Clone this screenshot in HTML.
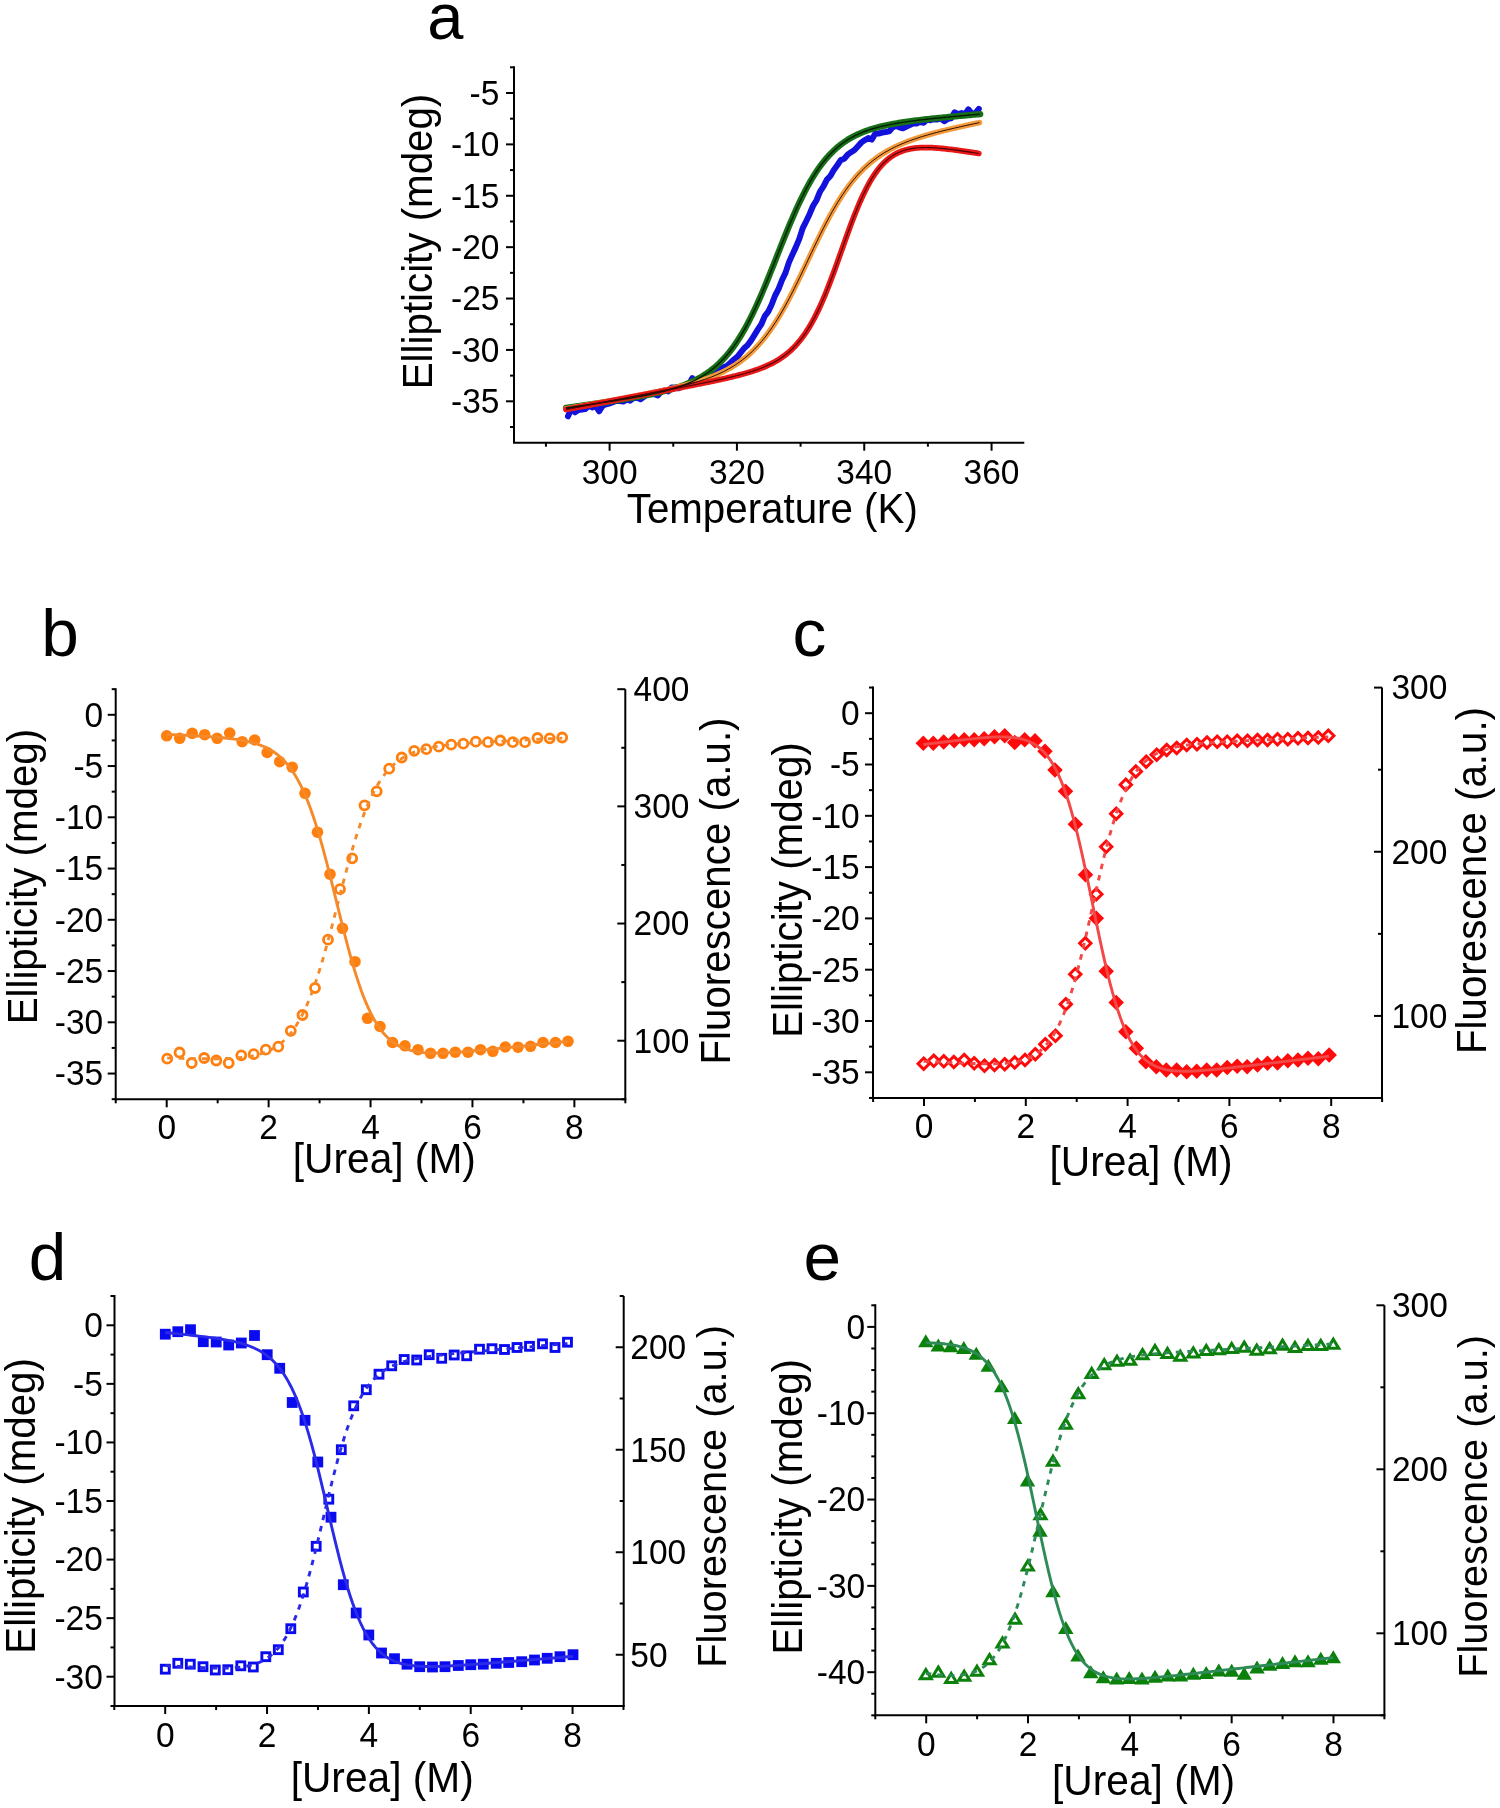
<!DOCTYPE html>
<html><head><meta charset="utf-8"><title>Figure</title>
<style>html,body{margin:0;padding:0;background:#fff;}body{width:1500px;height:1808px;overflow:hidden;}</style>
</head><body>
<svg width="1500" height="1808" viewBox="0 0 1500 1808" font-family='"Liberation Sans", sans-serif' style="display:block;will-change:transform">
<rect width="1500" height="1808" fill="#fff"/>
<path d="M514 67.3V442.7H1023.3" fill="none" stroke="#000" stroke-width="2" stroke-linecap="square"/>
<line x1="609.6" y1="442.7" x2="609.6" y2="450.7" stroke="#000" stroke-width="2"/>
<text transform="translate(609.6 483.8) scale(1 1.045)" font-size="33.5" text-anchor="middle">300</text>
<line x1="736.92" y1="442.7" x2="736.92" y2="450.7" stroke="#000" stroke-width="2"/>
<text transform="translate(736.92 483.8) scale(1 1.045)" font-size="33.5" text-anchor="middle">320</text>
<line x1="864.24" y1="442.7" x2="864.24" y2="450.7" stroke="#000" stroke-width="2"/>
<text transform="translate(864.24 483.8) scale(1 1.045)" font-size="33.5" text-anchor="middle">340</text>
<line x1="991.56" y1="442.7" x2="991.56" y2="450.7" stroke="#000" stroke-width="2"/>
<text transform="translate(991.56 483.8) scale(1 1.045)" font-size="33.5" text-anchor="middle">360</text>
<line x1="545.94" y1="442.7" x2="545.94" y2="446.7" stroke="#000" stroke-width="2"/>
<line x1="673.26" y1="442.7" x2="673.26" y2="446.7" stroke="#000" stroke-width="2"/>
<line x1="800.58" y1="442.7" x2="800.58" y2="446.7" stroke="#000" stroke-width="2"/>
<line x1="927.9" y1="442.7" x2="927.9" y2="446.7" stroke="#000" stroke-width="2"/>
<line x1="506" y1="93" x2="514" y2="93" stroke="#000" stroke-width="2"/>
<text transform="translate(499.4 104.8) scale(1 1.045)" font-size="33.5" text-anchor="end">-5</text>
<line x1="506" y1="144.38" x2="514" y2="144.38" stroke="#000" stroke-width="2"/>
<text transform="translate(499.4 156.19) scale(1 1.045)" font-size="33.5" text-anchor="end">-10</text>
<line x1="506" y1="195.77" x2="514" y2="195.77" stroke="#000" stroke-width="2"/>
<text transform="translate(499.4 207.57) scale(1 1.045)" font-size="33.5" text-anchor="end">-15</text>
<line x1="506" y1="247.16" x2="514" y2="247.16" stroke="#000" stroke-width="2"/>
<text transform="translate(499.4 258.95) scale(1 1.045)" font-size="33.5" text-anchor="end">-20</text>
<line x1="506" y1="298.54" x2="514" y2="298.54" stroke="#000" stroke-width="2"/>
<text transform="translate(499.4 310.34) scale(1 1.045)" font-size="33.5" text-anchor="end">-25</text>
<line x1="506" y1="349.93" x2="514" y2="349.93" stroke="#000" stroke-width="2"/>
<text transform="translate(499.4 361.73) scale(1 1.045)" font-size="33.5" text-anchor="end">-30</text>
<line x1="506" y1="401.31" x2="514" y2="401.31" stroke="#000" stroke-width="2"/>
<text transform="translate(499.4 413.11) scale(1 1.045)" font-size="33.5" text-anchor="end">-35</text>
<line x1="510" y1="67.31" x2="514" y2="67.31" stroke="#000" stroke-width="2"/>
<line x1="510" y1="118.69" x2="514" y2="118.69" stroke="#000" stroke-width="2"/>
<line x1="510" y1="170.08" x2="514" y2="170.08" stroke="#000" stroke-width="2"/>
<line x1="510" y1="221.46" x2="514" y2="221.46" stroke="#000" stroke-width="2"/>
<line x1="510" y1="272.85" x2="514" y2="272.85" stroke="#000" stroke-width="2"/>
<line x1="510" y1="324.23" x2="514" y2="324.23" stroke="#000" stroke-width="2"/>
<line x1="510" y1="375.62" x2="514" y2="375.62" stroke="#000" stroke-width="2"/>
<line x1="510" y1="427" x2="514" y2="427" stroke="#000" stroke-width="2"/>
<text transform="translate(427.2 39.2)" font-size="65" text-anchor="start">a</text>
<text transform="translate(431.6 241.5) rotate(-90) scale(1 1.035)" font-size="40.3" text-anchor="middle">Ellipticity (mdeg)</text>
<text transform="translate(772.3 522.8) scale(1 1.035)" font-size="40.3" text-anchor="middle">Temperature (K)</text>
<path d="M568 416.28 L571.45 408.62 L574.9 412.32 L578.36 410.07 L581.81 409.47 L585.26 409.06 L588.71 405.58 L592.16 407.5 L595.62 405.77 L599.07 411.28 L602.52 405.86 L605.97 404.22 L609.43 403.55 L612.88 402.19 L616.33 400.83 L619.78 401.04 L623.23 401.56 L626.69 399.69 L630.14 400.68 L633.59 398.15 L637.04 397.67 L640.49 399.14 L643.95 396.82 L647.4 394.41 L650.85 394.05 L654.3 394.28 L657.75 395.51 L661.21 391.31 L664.66 390.45 L668.11 391.4 L671.56 387.61 L675.02 387.53 L678.47 388.28 L681.92 386.78 L685.37 384.96 L688.82 384.69 L692.28 378.25 L695.73 382.76 L699.18 378.46 L702.63 377.31 L706.08 377.16 L709.54 375.83 L712.99 373.28 L716.44 370.95 L719.89 369.68 L723.34 367.39 L726.8 365.98 L730.25 362.87 L733.7 359.58 L737.15 357.04 L740.61 352.64 L744.06 348.32 L747.51 345.21 L750.96 340.66 L754.41 335.15 L757.87 329.37 L761.32 324.28 L764.77 316.13 L768.22 311.69 L771.67 304.46 L775.13 295.5 L778.58 288.87 L782.03 280.03 L785.48 272.88 L788.93 262.41 L792.39 254.59 L795.84 247.12 L799.29 238.9 L802.74 228.2 L806.19 221.22 L809.65 213.94 L813.1 205.78 L816.55 200.21 L820 191.57 L823.46 186.39 L826.91 179.59 L830.36 175.94 L833.81 170 L837.26 165.23 L840.72 160.15 L844.17 158.77 L847.62 154.69 L851.07 152.19 L854.52 149.94 L857.98 146.19 L861.43 142.38 L864.88 140.02 L868.33 138.08 L871.78 139.56 L875.24 133.69 L878.69 133.49 L882.14 132.52 L885.59 132.06 L889.05 131.39 L892.5 127.53 L895.95 125.76 L899.4 127.35 L902.85 128.23 L906.31 126.65 L909.76 124.97 L913.21 123.34 L916.66 123.46 L920.11 121.88 L923.57 122.72 L927.02 119.56 L930.47 120.24 L933.92 119.17 L937.37 119.46 L940.83 118.3 L944.28 121.11 L947.73 118.87 L951.18 118.21 L954.64 112.26 L958.09 114.16 L961.54 113.12 L964.99 114.19 L968.44 109.34 L971.9 113.89 L975.35 113.1 L978.8 108.92" fill="none" stroke="#1212dc" stroke-width="6.0" stroke-linejoin="round" stroke-linecap="round"/>
<path d="M566 407.95 L567.73 407.7 L569.47 407.45 L571.2 407.2 L572.93 406.95 L574.67 406.69 L576.4 406.44 L578.13 406.19 L579.86 405.94 L581.6 405.69 L583.33 405.43 L585.06 405.18 L586.8 404.92 L588.53 404.67 L590.26 404.41 L592 404.15 L593.73 403.9 L595.46 403.64 L597.19 403.38 L598.93 403.12 L600.66 402.86 L602.39 402.59 L604.13 402.33 L605.86 402.06 L607.59 401.8 L609.33 401.53 L611.06 401.26 L612.79 400.99 L614.53 400.72 L616.26 400.44 L617.99 400.16 L619.72 399.88 L621.46 399.6 L623.19 399.32 L624.92 399.03 L626.66 398.74 L628.39 398.45 L630.12 398.15 L631.86 397.85 L633.59 397.55 L635.32 397.24 L637.06 396.93 L638.79 396.61 L640.52 396.29 L642.25 395.96 L643.99 395.63 L645.72 395.29 L647.45 394.95 L649.19 394.59 L650.92 394.23 L652.65 393.87 L654.39 393.49 L656.12 393.11 L657.85 392.71 L659.58 392.31 L661.32 391.89 L663.05 391.47 L664.78 391.03 L666.52 390.57 L668.25 390.11 L669.98 389.63 L671.72 389.13 L673.45 388.61 L675.18 388.08 L676.92 387.53 L678.65 386.96 L680.38 386.36 L682.11 385.74 L683.85 385.1 L685.58 384.43 L687.31 383.73 L689.05 383.01 L690.78 382.25 L692.51 381.46 L694.25 380.63 L695.98 379.76 L697.71 378.86 L699.45 377.91 L701.18 376.92 L702.91 375.88 L704.64 374.79 L706.38 373.65 L708.11 372.46 L709.84 371.2 L711.58 369.89 L713.31 368.51 L715.04 367.07 L716.78 365.55 L718.51 363.96 L720.24 362.3 L721.97 360.55 L723.71 358.73 L725.44 356.81 L727.17 354.81 L728.91 352.72 L730.64 350.53 L732.37 348.24 L734.11 345.86 L735.84 343.37 L737.57 340.78 L739.31 338.08 L741.04 335.27 L742.77 332.36 L744.5 329.34 L746.24 326.21 L747.97 322.97 L749.7 319.63 L751.44 316.18 L753.17 312.63 L754.9 308.98 L756.64 305.23 L758.37 301.4 L760.1 297.47 L761.84 293.46 L763.57 289.38 L765.3 285.23 L767.03 281.02 L768.77 276.76 L770.5 272.45 L772.23 268.11 L773.97 263.74 L775.7 259.36 L777.43 254.96 L779.17 250.57 L780.9 246.2 L782.63 241.84 L784.36 237.52 L786.1 233.23 L787.83 229 L789.56 224.82 L791.3 220.7 L793.03 216.66 L794.76 212.7 L796.5 208.83 L798.23 205.04 L799.96 201.35 L801.7 197.77 L803.43 194.28 L805.16 190.9 L806.89 187.63 L808.63 184.47 L810.36 181.42 L812.09 178.48 L813.83 175.65 L815.56 172.93 L817.29 170.32 L819.03 167.82 L820.76 165.43 L822.49 163.14 L824.23 160.95 L825.96 158.86 L827.69 156.87 L829.42 154.97 L831.16 153.15 L832.89 151.43 L834.62 149.79 L836.36 148.23 L838.09 146.75 L839.82 145.34 L841.56 144 L843.29 142.73 L845.02 141.52 L846.75 140.38 L848.49 139.29 L850.22 138.26 L851.95 137.28 L853.69 136.35 L855.42 135.47 L857.15 134.63 L858.89 133.83 L860.62 133.08 L862.35 132.36 L864.09 131.67 L865.82 131.02 L867.55 130.4 L869.28 129.81 L871.02 129.25 L872.75 128.72 L874.48 128.21 L876.22 127.72 L877.95 127.25 L879.68 126.81 L881.42 126.38 L883.15 125.97 L884.88 125.58 L886.62 125.21 L888.35 124.84 L890.08 124.5 L891.81 124.16 L893.55 123.84 L895.28 123.53 L897.01 123.23 L898.75 122.94 L900.48 122.66 L902.21 122.39 L903.95 122.13 L905.68 121.87 L907.41 121.62 L909.14 121.38 L910.88 121.14 L912.61 120.91 L914.34 120.69 L916.08 120.47 L917.81 120.26 L919.54 120.05 L921.28 119.84 L923.01 119.64 L924.74 119.44 L926.48 119.25 L928.21 119.06 L929.94 118.87 L931.67 118.68 L933.41 118.5 L935.14 118.32 L936.87 118.14 L938.61 117.96 L940.34 117.79 L942.07 117.62 L943.81 117.45 L945.54 117.28 L947.27 117.11 L949.01 116.95 L950.74 116.78 L952.47 116.62 L954.2 116.46 L955.94 116.29 L957.67 116.13 L959.4 115.98 L961.14 115.82 L962.87 115.66 L964.6 115.5 L966.34 115.35 L968.07 115.19 L969.8 115.04 L971.53 114.88 L973.27 114.73 L975 114.58 L976.73 114.43 L978.47 114.27 L980.2 114.12" fill="none" stroke="#177017" stroke-width="6.3" stroke-linejoin="round" stroke-linecap="round"/>
<path d="M566 408.87 L567.73 408.56 L569.46 408.25 L571.19 407.94 L572.92 407.62 L574.65 407.31 L576.38 407 L578.11 406.69 L579.84 406.37 L581.57 406.06 L583.3 405.75 L585.03 405.43 L586.76 405.12 L588.49 404.8 L590.22 404.49 L591.95 404.17 L593.68 403.86 L595.41 403.54 L597.14 403.23 L598.87 402.91 L600.6 402.59 L602.33 402.28 L604.06 401.96 L605.79 401.64 L607.52 401.32 L609.25 401 L610.98 400.68 L612.71 400.36 L614.44 400.04 L616.17 399.72 L617.9 399.4 L619.63 399.08 L621.36 398.75 L623.09 398.43 L624.82 398.1 L626.55 397.78 L628.28 397.45 L630.01 397.12 L631.74 396.79 L633.47 396.46 L635.21 396.12 L636.94 395.79 L638.67 395.45 L640.4 395.12 L642.13 394.78 L643.86 394.44 L645.59 394.09 L647.32 393.75 L649.05 393.4 L650.78 393.05 L652.51 392.7 L654.24 392.34 L655.97 391.98 L657.7 391.62 L659.43 391.26 L661.16 390.89 L662.89 390.52 L664.62 390.14 L666.35 389.76 L668.08 389.37 L669.81 388.98 L671.54 388.59 L673.27 388.19 L675 387.78 L676.73 387.37 L678.46 386.95 L680.19 386.52 L681.92 386.09 L683.65 385.65 L685.38 385.2 L687.11 384.74 L688.84 384.27 L690.57 383.79 L692.3 383.3 L694.03 382.8 L695.76 382.28 L697.49 381.76 L699.22 381.22 L700.95 380.66 L702.68 380.09 L704.41 379.51 L706.14 378.9 L707.87 378.28 L709.6 377.64 L711.33 376.98 L713.06 376.29 L714.79 375.58 L716.52 374.85 L718.25 374.09 L719.98 373.31 L721.71 372.5 L723.44 371.65 L725.17 370.78 L726.9 369.87 L728.63 368.92 L730.36 367.94 L732.09 366.92 L733.82 365.86 L735.55 364.75 L737.28 363.6 L739.01 362.4 L740.74 361.15 L742.47 359.85 L744.2 358.5 L745.93 357.09 L747.66 355.62 L749.39 354.09 L751.12 352.5 L752.85 350.84 L754.58 349.11 L756.31 347.32 L758.04 345.45 L759.77 343.51 L761.5 341.5 L763.23 339.41 L764.96 337.24 L766.69 334.99 L768.42 332.66 L770.15 330.25 L771.88 327.75 L773.62 325.18 L775.35 322.52 L777.08 319.79 L778.81 316.97 L780.54 314.07 L782.27 311.1 L784 308.05 L785.73 304.92 L787.46 301.73 L789.19 298.47 L790.92 295.15 L792.65 291.77 L794.38 288.33 L796.11 284.85 L797.84 281.32 L799.57 277.76 L801.3 274.17 L803.03 270.55 L804.76 266.91 L806.49 263.25 L808.22 259.6 L809.95 255.94 L811.68 252.29 L813.41 248.66 L815.14 245.05 L816.87 241.46 L818.6 237.91 L820.33 234.4 L822.06 230.93 L823.79 227.51 L825.52 224.15 L827.25 220.85 L828.98 217.61 L830.71 214.44 L832.44 211.34 L834.17 208.31 L835.9 205.36 L837.63 202.48 L839.36 199.69 L841.09 196.97 L842.82 194.34 L844.55 191.78 L846.28 189.31 L848.01 186.92 L849.74 184.61 L851.47 182.38 L853.2 180.22 L854.93 178.15 L856.66 176.14 L858.39 174.22 L860.12 172.36 L861.85 170.58 L863.58 168.86 L865.31 167.21 L867.04 165.62 L868.77 164.09 L870.5 162.63 L872.23 161.22 L873.96 159.86 L875.69 158.56 L877.42 157.31 L879.15 156.1 L880.88 154.95 L882.61 153.83 L884.34 152.76 L886.07 151.73 L887.8 150.74 L889.53 149.78 L891.26 148.86 L892.99 147.97 L894.72 147.11 L896.45 146.28 L898.18 145.48 L899.91 144.71 L901.64 143.96 L903.37 143.24 L905.1 142.53 L906.83 141.85 L908.56 141.19 L910.29 140.55 L912.03 139.92 L913.76 139.31 L915.49 138.72 L917.22 138.14 L918.95 137.58 L920.68 137.03 L922.41 136.5 L924.14 135.97 L925.87 135.46 L927.6 134.95 L929.33 134.46 L931.06 133.98 L932.79 133.5 L934.52 133.03 L936.25 132.57 L937.98 132.12 L939.71 131.68 L941.44 131.24 L943.17 130.8 L944.9 130.38 L946.63 129.96 L948.36 129.54 L950.09 129.13 L951.82 128.72 L953.55 128.32 L955.28 127.92 L957.01 127.52 L958.74 127.13 L960.47 126.74 L962.2 126.36 L963.93 125.97 L965.66 125.59 L967.39 125.22 L969.12 124.84 L970.85 124.47 L972.58 124.1 L974.31 123.73 L976.04 123.36 L977.77 123 L979.5 122.63" fill="none" stroke="#f39a3a" stroke-width="5.6" stroke-linejoin="round" stroke-linecap="round"/>
<path d="M566 409.5 L567.73 409.17 L569.45 408.84 L571.18 408.51 L572.91 408.18 L574.64 407.85 L576.36 407.52 L578.09 407.19 L579.82 406.86 L581.54 406.53 L583.27 406.2 L585 405.87 L586.73 405.54 L588.45 405.21 L590.18 404.88 L591.91 404.55 L593.64 404.22 L595.36 403.89 L597.09 403.56 L598.82 403.23 L600.54 402.9 L602.27 402.57 L604 402.24 L605.73 401.92 L607.45 401.59 L609.18 401.26 L610.91 400.93 L612.63 400.6 L614.36 400.27 L616.09 399.94 L617.82 399.61 L619.54 399.28 L621.27 398.95 L623 398.62 L624.72 398.29 L626.45 397.96 L628.18 397.63 L629.91 397.3 L631.63 396.97 L633.36 396.64 L635.09 396.31 L636.82 395.98 L638.54 395.65 L640.27 395.32 L642 394.98 L643.72 394.65 L645.45 394.32 L647.18 393.99 L648.91 393.66 L650.63 393.33 L652.36 393 L654.09 392.67 L655.81 392.34 L657.54 392 L659.27 391.67 L661 391.34 L662.72 391.01 L664.45 390.67 L666.18 390.34 L667.9 390.01 L669.63 389.68 L671.36 389.34 L673.09 389.01 L674.81 388.67 L676.54 388.34 L678.27 388 L679.99 387.67 L681.72 387.33 L683.45 386.99 L685.18 386.65 L686.9 386.31 L688.63 385.97 L690.36 385.63 L692.09 385.29 L693.81 384.95 L695.54 384.61 L697.27 384.26 L698.99 383.92 L700.72 383.57 L702.45 383.22 L704.18 382.87 L705.9 382.52 L707.63 382.16 L709.36 381.8 L711.08 381.44 L712.81 381.08 L714.54 380.72 L716.27 380.35 L717.99 379.98 L719.72 379.6 L721.45 379.23 L723.17 378.84 L724.9 378.46 L726.63 378.06 L728.36 377.67 L730.08 377.26 L731.81 376.85 L733.54 376.43 L735.27 376.01 L736.99 375.58 L738.72 375.13 L740.45 374.68 L742.17 374.22 L743.9 373.75 L745.63 373.26 L747.36 372.76 L749.08 372.25 L750.81 371.72 L752.54 371.18 L754.26 370.61 L755.99 370.03 L757.72 369.42 L759.45 368.8 L761.17 368.14 L762.9 367.46 L764.63 366.75 L766.35 366.01 L768.08 365.23 L769.81 364.42 L771.54 363.57 L773.26 362.68 L774.99 361.73 L776.72 360.74 L778.45 359.7 L780.17 358.6 L781.9 357.44 L783.63 356.21 L785.35 354.92 L787.08 353.55 L788.81 352.1 L790.54 350.57 L792.26 348.94 L793.99 347.22 L795.72 345.41 L797.44 343.48 L799.17 341.45 L800.9 339.3 L802.63 337.03 L804.35 334.63 L806.08 332.1 L807.81 329.43 L809.53 326.62 L811.26 323.67 L812.99 320.57 L814.72 317.33 L816.44 313.93 L818.17 310.39 L819.9 306.7 L821.63 302.86 L823.35 298.88 L825.08 294.76 L826.81 290.51 L828.53 286.15 L830.26 281.66 L831.99 277.08 L833.72 272.41 L835.44 267.67 L837.17 262.86 L838.9 258.02 L840.62 253.14 L842.35 248.26 L844.08 243.39 L845.81 238.54 L847.53 233.73 L849.26 228.99 L850.99 224.33 L852.71 219.76 L854.44 215.29 L856.17 210.95 L857.9 206.74 L859.62 202.68 L861.35 198.76 L863.08 195.01 L864.81 191.42 L866.53 187.99 L868.26 184.74 L869.99 181.66 L871.71 178.75 L873.44 176.01 L875.17 173.44 L876.9 171.03 L878.62 168.78 L880.35 166.68 L882.08 164.74 L883.8 162.94 L885.53 161.28 L887.26 159.74 L888.99 158.34 L890.71 157.05 L892.44 155.87 L894.17 154.8 L895.89 153.83 L897.62 152.95 L899.35 152.16 L901.08 151.46 L902.8 150.83 L904.53 150.26 L906.26 149.77 L907.98 149.34 L909.71 148.96 L911.44 148.64 L913.17 148.37 L914.89 148.14 L916.62 147.96 L918.35 147.81 L920.08 147.7 L921.8 147.62 L923.53 147.58 L925.26 147.56 L926.98 147.56 L928.71 147.59 L930.44 147.65 L932.17 147.72 L933.89 147.81 L935.62 147.92 L937.35 148.04 L939.07 148.18 L940.8 148.33 L942.53 148.5 L944.26 148.67 L945.98 148.86 L947.71 149.05 L949.44 149.26 L951.16 149.47 L952.89 149.68 L954.62 149.91 L956.35 150.14 L958.07 150.37 L959.8 150.62 L961.53 150.86 L963.26 151.11 L964.98 151.37 L966.71 151.62 L968.44 151.88 L970.16 152.15 L971.89 152.41 L973.62 152.68 L975.35 152.95 L977.07 153.23 L978.8 153.5" fill="none" stroke="#e81818" stroke-width="5.8" stroke-linejoin="round" stroke-linecap="round"/>
<path d="M566 407.95 L567.73 407.7 L569.47 407.45 L571.2 407.2 L572.93 406.95 L574.67 406.69 L576.4 406.44 L578.13 406.19 L579.86 405.94 L581.6 405.69 L583.33 405.43 L585.06 405.18 L586.8 404.92 L588.53 404.67 L590.26 404.41 L592 404.15 L593.73 403.9 L595.46 403.64 L597.19 403.38 L598.93 403.12 L600.66 402.86 L602.39 402.59 L604.13 402.33 L605.86 402.06 L607.59 401.8 L609.33 401.53 L611.06 401.26 L612.79 400.99 L614.53 400.72 L616.26 400.44 L617.99 400.16 L619.72 399.88 L621.46 399.6 L623.19 399.32 L624.92 399.03 L626.66 398.74 L628.39 398.45 L630.12 398.15 L631.86 397.85 L633.59 397.55 L635.32 397.24 L637.06 396.93 L638.79 396.61 L640.52 396.29 L642.25 395.96 L643.99 395.63 L645.72 395.29 L647.45 394.95 L649.19 394.59 L650.92 394.23 L652.65 393.87 L654.39 393.49 L656.12 393.11 L657.85 392.71 L659.58 392.31 L661.32 391.89 L663.05 391.47 L664.78 391.03 L666.52 390.57 L668.25 390.11 L669.98 389.63 L671.72 389.13 L673.45 388.61 L675.18 388.08 L676.92 387.53 L678.65 386.96 L680.38 386.36 L682.11 385.74 L683.85 385.1 L685.58 384.43 L687.31 383.73 L689.05 383.01 L690.78 382.25 L692.51 381.46 L694.25 380.63 L695.98 379.76 L697.71 378.86 L699.45 377.91 L701.18 376.92 L702.91 375.88 L704.64 374.79 L706.38 373.65 L708.11 372.46 L709.84 371.2 L711.58 369.89 L713.31 368.51 L715.04 367.07 L716.78 365.55 L718.51 363.96 L720.24 362.3 L721.97 360.55 L723.71 358.73 L725.44 356.81 L727.17 354.81 L728.91 352.72 L730.64 350.53 L732.37 348.24 L734.11 345.86 L735.84 343.37 L737.57 340.78 L739.31 338.08 L741.04 335.27 L742.77 332.36 L744.5 329.34 L746.24 326.21 L747.97 322.97 L749.7 319.63 L751.44 316.18 L753.17 312.63 L754.9 308.98 L756.64 305.23 L758.37 301.4 L760.1 297.47 L761.84 293.46 L763.57 289.38 L765.3 285.23 L767.03 281.02 L768.77 276.76 L770.5 272.45 L772.23 268.11 L773.97 263.74 L775.7 259.36 L777.43 254.96 L779.17 250.57 L780.9 246.2 L782.63 241.84 L784.36 237.52 L786.1 233.23 L787.83 229 L789.56 224.82 L791.3 220.7 L793.03 216.66 L794.76 212.7 L796.5 208.83 L798.23 205.04 L799.96 201.35 L801.7 197.77 L803.43 194.28 L805.16 190.9 L806.89 187.63 L808.63 184.47 L810.36 181.42 L812.09 178.48 L813.83 175.65 L815.56 172.93 L817.29 170.32 L819.03 167.82 L820.76 165.43 L822.49 163.14 L824.23 160.95 L825.96 158.86 L827.69 156.87 L829.42 154.97 L831.16 153.15 L832.89 151.43 L834.62 149.79 L836.36 148.23 L838.09 146.75 L839.82 145.34 L841.56 144 L843.29 142.73 L845.02 141.52 L846.75 140.38 L848.49 139.29 L850.22 138.26 L851.95 137.28 L853.69 136.35 L855.42 135.47 L857.15 134.63 L858.89 133.83 L860.62 133.08 L862.35 132.36 L864.09 131.67 L865.82 131.02 L867.55 130.4 L869.28 129.81 L871.02 129.25 L872.75 128.72 L874.48 128.21 L876.22 127.72 L877.95 127.25 L879.68 126.81 L881.42 126.38 L883.15 125.97 L884.88 125.58 L886.62 125.21 L888.35 124.84 L890.08 124.5 L891.81 124.16 L893.55 123.84 L895.28 123.53 L897.01 123.23 L898.75 122.94 L900.48 122.66 L902.21 122.39 L903.95 122.13 L905.68 121.87 L907.41 121.62 L909.14 121.38 L910.88 121.14 L912.61 120.91 L914.34 120.69 L916.08 120.47 L917.81 120.26 L919.54 120.05 L921.28 119.84 L923.01 119.64 L924.74 119.44 L926.48 119.25 L928.21 119.06 L929.94 118.87 L931.67 118.68 L933.41 118.5 L935.14 118.32 L936.87 118.14 L938.61 117.96 L940.34 117.79 L942.07 117.62 L943.81 117.45 L945.54 117.28 L947.27 117.11 L949.01 116.95 L950.74 116.78 L952.47 116.62 L954.2 116.46 L955.94 116.29 L957.67 116.13 L959.4 115.98 L961.14 115.82 L962.87 115.66 L964.6 115.5 L966.34 115.35 L968.07 115.19 L969.8 115.04 L971.53 114.88 L973.27 114.73 L975 114.58 L976.73 114.43 L978.47 114.27 L980.2 114.12" fill="none" stroke="#031d03" stroke-width="1.4"/>
<path d="M566 408.87 L567.73 408.56 L569.46 408.25 L571.19 407.94 L572.92 407.62 L574.65 407.31 L576.38 407 L578.11 406.69 L579.84 406.37 L581.57 406.06 L583.3 405.75 L585.03 405.43 L586.76 405.12 L588.49 404.8 L590.22 404.49 L591.95 404.17 L593.68 403.86 L595.41 403.54 L597.14 403.23 L598.87 402.91 L600.6 402.59 L602.33 402.28 L604.06 401.96 L605.79 401.64 L607.52 401.32 L609.25 401 L610.98 400.68 L612.71 400.36 L614.44 400.04 L616.17 399.72 L617.9 399.4 L619.63 399.08 L621.36 398.75 L623.09 398.43 L624.82 398.1 L626.55 397.78 L628.28 397.45 L630.01 397.12 L631.74 396.79 L633.47 396.46 L635.21 396.12 L636.94 395.79 L638.67 395.45 L640.4 395.12 L642.13 394.78 L643.86 394.44 L645.59 394.09 L647.32 393.75 L649.05 393.4 L650.78 393.05 L652.51 392.7 L654.24 392.34 L655.97 391.98 L657.7 391.62 L659.43 391.26 L661.16 390.89 L662.89 390.52 L664.62 390.14 L666.35 389.76 L668.08 389.37 L669.81 388.98 L671.54 388.59 L673.27 388.19 L675 387.78 L676.73 387.37 L678.46 386.95 L680.19 386.52 L681.92 386.09 L683.65 385.65 L685.38 385.2 L687.11 384.74 L688.84 384.27 L690.57 383.79 L692.3 383.3 L694.03 382.8 L695.76 382.28 L697.49 381.76 L699.22 381.22 L700.95 380.66 L702.68 380.09 L704.41 379.51 L706.14 378.9 L707.87 378.28 L709.6 377.64 L711.33 376.98 L713.06 376.29 L714.79 375.58 L716.52 374.85 L718.25 374.09 L719.98 373.31 L721.71 372.5 L723.44 371.65 L725.17 370.78 L726.9 369.87 L728.63 368.92 L730.36 367.94 L732.09 366.92 L733.82 365.86 L735.55 364.75 L737.28 363.6 L739.01 362.4 L740.74 361.15 L742.47 359.85 L744.2 358.5 L745.93 357.09 L747.66 355.62 L749.39 354.09 L751.12 352.5 L752.85 350.84 L754.58 349.11 L756.31 347.32 L758.04 345.45 L759.77 343.51 L761.5 341.5 L763.23 339.41 L764.96 337.24 L766.69 334.99 L768.42 332.66 L770.15 330.25 L771.88 327.75 L773.62 325.18 L775.35 322.52 L777.08 319.79 L778.81 316.97 L780.54 314.07 L782.27 311.1 L784 308.05 L785.73 304.92 L787.46 301.73 L789.19 298.47 L790.92 295.15 L792.65 291.77 L794.38 288.33 L796.11 284.85 L797.84 281.32 L799.57 277.76 L801.3 274.17 L803.03 270.55 L804.76 266.91 L806.49 263.25 L808.22 259.6 L809.95 255.94 L811.68 252.29 L813.41 248.66 L815.14 245.05 L816.87 241.46 L818.6 237.91 L820.33 234.4 L822.06 230.93 L823.79 227.51 L825.52 224.15 L827.25 220.85 L828.98 217.61 L830.71 214.44 L832.44 211.34 L834.17 208.31 L835.9 205.36 L837.63 202.48 L839.36 199.69 L841.09 196.97 L842.82 194.34 L844.55 191.78 L846.28 189.31 L848.01 186.92 L849.74 184.61 L851.47 182.38 L853.2 180.22 L854.93 178.15 L856.66 176.14 L858.39 174.22 L860.12 172.36 L861.85 170.58 L863.58 168.86 L865.31 167.21 L867.04 165.62 L868.77 164.09 L870.5 162.63 L872.23 161.22 L873.96 159.86 L875.69 158.56 L877.42 157.31 L879.15 156.1 L880.88 154.95 L882.61 153.83 L884.34 152.76 L886.07 151.73 L887.8 150.74 L889.53 149.78 L891.26 148.86 L892.99 147.97 L894.72 147.11 L896.45 146.28 L898.18 145.48 L899.91 144.71 L901.64 143.96 L903.37 143.24 L905.1 142.53 L906.83 141.85 L908.56 141.19 L910.29 140.55 L912.03 139.92 L913.76 139.31 L915.49 138.72 L917.22 138.14 L918.95 137.58 L920.68 137.03 L922.41 136.5 L924.14 135.97 L925.87 135.46 L927.6 134.95 L929.33 134.46 L931.06 133.98 L932.79 133.5 L934.52 133.03 L936.25 132.57 L937.98 132.12 L939.71 131.68 L941.44 131.24 L943.17 130.8 L944.9 130.38 L946.63 129.96 L948.36 129.54 L950.09 129.13 L951.82 128.72 L953.55 128.32 L955.28 127.92 L957.01 127.52 L958.74 127.13 L960.47 126.74 L962.2 126.36 L963.93 125.97 L965.66 125.59 L967.39 125.22 L969.12 124.84 L970.85 124.47 L972.58 124.1 L974.31 123.73 L976.04 123.36 L977.77 123 L979.5 122.63" fill="none" stroke="#2a0a00" stroke-width="1.0"/>
<path d="M566 409.5 L567.73 409.17 L569.45 408.84 L571.18 408.51 L572.91 408.18 L574.64 407.85 L576.36 407.52 L578.09 407.19 L579.82 406.86 L581.54 406.53 L583.27 406.2 L585 405.87 L586.73 405.54 L588.45 405.21 L590.18 404.88 L591.91 404.55 L593.64 404.22 L595.36 403.89 L597.09 403.56 L598.82 403.23 L600.54 402.9 L602.27 402.57 L604 402.24 L605.73 401.92 L607.45 401.59 L609.18 401.26 L610.91 400.93 L612.63 400.6 L614.36 400.27 L616.09 399.94 L617.82 399.61 L619.54 399.28 L621.27 398.95 L623 398.62 L624.72 398.29 L626.45 397.96 L628.18 397.63 L629.91 397.3 L631.63 396.97 L633.36 396.64 L635.09 396.31 L636.82 395.98 L638.54 395.65 L640.27 395.32 L642 394.98 L643.72 394.65 L645.45 394.32 L647.18 393.99 L648.91 393.66 L650.63 393.33 L652.36 393 L654.09 392.67 L655.81 392.34 L657.54 392 L659.27 391.67 L661 391.34 L662.72 391.01 L664.45 390.67 L666.18 390.34 L667.9 390.01 L669.63 389.68 L671.36 389.34 L673.09 389.01 L674.81 388.67 L676.54 388.34 L678.27 388 L679.99 387.67 L681.72 387.33 L683.45 386.99 L685.18 386.65 L686.9 386.31 L688.63 385.97 L690.36 385.63 L692.09 385.29 L693.81 384.95 L695.54 384.61 L697.27 384.26 L698.99 383.92 L700.72 383.57 L702.45 383.22 L704.18 382.87 L705.9 382.52 L707.63 382.16 L709.36 381.8 L711.08 381.44 L712.81 381.08 L714.54 380.72 L716.27 380.35 L717.99 379.98 L719.72 379.6 L721.45 379.23 L723.17 378.84 L724.9 378.46 L726.63 378.06 L728.36 377.67 L730.08 377.26 L731.81 376.85 L733.54 376.43 L735.27 376.01 L736.99 375.58 L738.72 375.13 L740.45 374.68 L742.17 374.22 L743.9 373.75 L745.63 373.26 L747.36 372.76 L749.08 372.25 L750.81 371.72 L752.54 371.18 L754.26 370.61 L755.99 370.03 L757.72 369.42 L759.45 368.8 L761.17 368.14 L762.9 367.46 L764.63 366.75 L766.35 366.01 L768.08 365.23 L769.81 364.42 L771.54 363.57 L773.26 362.68 L774.99 361.73 L776.72 360.74 L778.45 359.7 L780.17 358.6 L781.9 357.44 L783.63 356.21 L785.35 354.92 L787.08 353.55 L788.81 352.1 L790.54 350.57 L792.26 348.94 L793.99 347.22 L795.72 345.41 L797.44 343.48 L799.17 341.45 L800.9 339.3 L802.63 337.03 L804.35 334.63 L806.08 332.1 L807.81 329.43 L809.53 326.62 L811.26 323.67 L812.99 320.57 L814.72 317.33 L816.44 313.93 L818.17 310.39 L819.9 306.7 L821.63 302.86 L823.35 298.88 L825.08 294.76 L826.81 290.51 L828.53 286.15 L830.26 281.66 L831.99 277.08 L833.72 272.41 L835.44 267.67 L837.17 262.86 L838.9 258.02 L840.62 253.14 L842.35 248.26 L844.08 243.39 L845.81 238.54 L847.53 233.73 L849.26 228.99 L850.99 224.33 L852.71 219.76 L854.44 215.29 L856.17 210.95 L857.9 206.74 L859.62 202.68 L861.35 198.76 L863.08 195.01 L864.81 191.42 L866.53 187.99 L868.26 184.74 L869.99 181.66 L871.71 178.75 L873.44 176.01 L875.17 173.44 L876.9 171.03 L878.62 168.78 L880.35 166.68 L882.08 164.74 L883.8 162.94 L885.53 161.28 L887.26 159.74 L888.99 158.34 L890.71 157.05 L892.44 155.87 L894.17 154.8 L895.89 153.83 L897.62 152.95 L899.35 152.16 L901.08 151.46 L902.8 150.83 L904.53 150.26 L906.26 149.77 L907.98 149.34 L909.71 148.96 L911.44 148.64 L913.17 148.37 L914.89 148.14 L916.62 147.96 L918.35 147.81 L920.08 147.7 L921.8 147.62 L923.53 147.58 L925.26 147.56 L926.98 147.56 L928.71 147.59 L930.44 147.65 L932.17 147.72 L933.89 147.81 L935.62 147.92 L937.35 148.04 L939.07 148.18 L940.8 148.33 L942.53 148.5 L944.26 148.67 L945.98 148.86 L947.71 149.05 L949.44 149.26 L951.16 149.47 L952.89 149.68 L954.62 149.91 L956.35 150.14 L958.07 150.37 L959.8 150.62 L961.53 150.86 L963.26 151.11 L964.98 151.37 L966.71 151.62 L968.44 151.88 L970.16 152.15 L971.89 152.41 L973.62 152.68 L975.35 152.95 L977.07 153.23 L978.8 153.5" fill="none" stroke="#4a0000" stroke-width="1.1"/>
<path d="M115.7 689.2V1099.3H625.3" fill="none" stroke="#000" stroke-width="2" stroke-linecap="square"/>
<line x1="625.3" y1="689.2" x2="625.3" y2="1099.3" stroke="#000" stroke-width="2"/>
<line x1="166.7" y1="1099.3" x2="166.7" y2="1107.3" stroke="#000" stroke-width="2"/>
<text transform="translate(166.7 1139.2) scale(1 1.045)" font-size="33.5" text-anchor="middle">0</text>
<line x1="268.62" y1="1099.3" x2="268.62" y2="1107.3" stroke="#000" stroke-width="2"/>
<text transform="translate(268.62 1139.2) scale(1 1.045)" font-size="33.5" text-anchor="middle">2</text>
<line x1="370.54" y1="1099.3" x2="370.54" y2="1107.3" stroke="#000" stroke-width="2"/>
<text transform="translate(370.54 1139.2) scale(1 1.045)" font-size="33.5" text-anchor="middle">4</text>
<line x1="472.46" y1="1099.3" x2="472.46" y2="1107.3" stroke="#000" stroke-width="2"/>
<text transform="translate(472.46 1139.2) scale(1 1.045)" font-size="33.5" text-anchor="middle">6</text>
<line x1="574.38" y1="1099.3" x2="574.38" y2="1107.3" stroke="#000" stroke-width="2"/>
<text transform="translate(574.38 1139.2) scale(1 1.045)" font-size="33.5" text-anchor="middle">8</text>
<line x1="115.74" y1="1099.3" x2="115.74" y2="1103.3" stroke="#000" stroke-width="2"/>
<line x1="217.66" y1="1099.3" x2="217.66" y2="1103.3" stroke="#000" stroke-width="2"/>
<line x1="319.58" y1="1099.3" x2="319.58" y2="1103.3" stroke="#000" stroke-width="2"/>
<line x1="421.5" y1="1099.3" x2="421.5" y2="1103.3" stroke="#000" stroke-width="2"/>
<line x1="523.42" y1="1099.3" x2="523.42" y2="1103.3" stroke="#000" stroke-width="2"/>
<line x1="625.34" y1="1099.3" x2="625.34" y2="1103.3" stroke="#000" stroke-width="2"/>
<line x1="107.7" y1="714.8" x2="115.7" y2="714.8" stroke="#000" stroke-width="2"/>
<text transform="translate(103.2 726.6) scale(1 1.045)" font-size="33.5" text-anchor="end">0</text>
<line x1="107.7" y1="766.05" x2="115.7" y2="766.05" stroke="#000" stroke-width="2"/>
<text transform="translate(103.2 777.85) scale(1 1.045)" font-size="33.5" text-anchor="end">-5</text>
<line x1="107.7" y1="817.3" x2="115.7" y2="817.3" stroke="#000" stroke-width="2"/>
<text transform="translate(103.2 829.1) scale(1 1.045)" font-size="33.5" text-anchor="end">-10</text>
<line x1="107.7" y1="868.55" x2="115.7" y2="868.55" stroke="#000" stroke-width="2"/>
<text transform="translate(103.2 880.35) scale(1 1.045)" font-size="33.5" text-anchor="end">-15</text>
<line x1="107.7" y1="919.8" x2="115.7" y2="919.8" stroke="#000" stroke-width="2"/>
<text transform="translate(103.2 931.6) scale(1 1.045)" font-size="33.5" text-anchor="end">-20</text>
<line x1="107.7" y1="971.05" x2="115.7" y2="971.05" stroke="#000" stroke-width="2"/>
<text transform="translate(103.2 982.85) scale(1 1.045)" font-size="33.5" text-anchor="end">-25</text>
<line x1="107.7" y1="1022.3" x2="115.7" y2="1022.3" stroke="#000" stroke-width="2"/>
<text transform="translate(103.2 1034.1) scale(1 1.045)" font-size="33.5" text-anchor="end">-30</text>
<line x1="107.7" y1="1073.55" x2="115.7" y2="1073.55" stroke="#000" stroke-width="2"/>
<text transform="translate(103.2 1085.35) scale(1 1.045)" font-size="33.5" text-anchor="end">-35</text>
<line x1="111.7" y1="689.17" x2="115.7" y2="689.17" stroke="#000" stroke-width="2"/>
<line x1="111.7" y1="740.42" x2="115.7" y2="740.42" stroke="#000" stroke-width="2"/>
<line x1="111.7" y1="791.67" x2="115.7" y2="791.67" stroke="#000" stroke-width="2"/>
<line x1="111.7" y1="842.92" x2="115.7" y2="842.92" stroke="#000" stroke-width="2"/>
<line x1="111.7" y1="894.17" x2="115.7" y2="894.17" stroke="#000" stroke-width="2"/>
<line x1="111.7" y1="945.42" x2="115.7" y2="945.42" stroke="#000" stroke-width="2"/>
<line x1="111.7" y1="996.67" x2="115.7" y2="996.67" stroke="#000" stroke-width="2"/>
<line x1="111.7" y1="1047.92" x2="115.7" y2="1047.92" stroke="#000" stroke-width="2"/>
<line x1="111.7" y1="1099.17" x2="115.7" y2="1099.17" stroke="#000" stroke-width="2"/>
<line x1="617.3" y1="689.2" x2="625.3" y2="689.2" stroke="#000" stroke-width="2"/>
<text transform="translate(633.6 701) scale(1 1.045)" font-size="33.5" text-anchor="start">400</text>
<line x1="617.3" y1="806.37" x2="625.3" y2="806.37" stroke="#000" stroke-width="2"/>
<text transform="translate(633.6 818.17) scale(1 1.045)" font-size="33.5" text-anchor="start">300</text>
<line x1="617.3" y1="923.54" x2="625.3" y2="923.54" stroke="#000" stroke-width="2"/>
<text transform="translate(633.6 935.34) scale(1 1.045)" font-size="33.5" text-anchor="start">200</text>
<line x1="617.3" y1="1040.71" x2="625.3" y2="1040.71" stroke="#000" stroke-width="2"/>
<text transform="translate(633.6 1052.51) scale(1 1.045)" font-size="33.5" text-anchor="start">100</text>
<line x1="621.3" y1="747.79" x2="625.3" y2="747.79" stroke="#000" stroke-width="2"/>
<line x1="621.3" y1="864.96" x2="625.3" y2="864.96" stroke="#000" stroke-width="2"/>
<line x1="621.3" y1="982.13" x2="625.3" y2="982.13" stroke="#000" stroke-width="2"/>
<line x1="621.3" y1="1099.3" x2="625.3" y2="1099.3" stroke="#000" stroke-width="2"/>
<text transform="translate(41.3 655.8)" font-size="67.5" text-anchor="start">b</text>
<text transform="translate(37.2 876.6) rotate(-90) scale(1 1.035)" font-size="40.3" text-anchor="middle">Ellipticity (mdeg)</text>
<text transform="translate(730 891) rotate(-90) scale(1 1.035)" font-size="40.3" text-anchor="middle">Fluorescence (a.u.)</text>
<text transform="translate(384.3 1173.3) scale(1 1.035)" font-size="40.7" text-anchor="middle">[Urea] (M)</text>
<g fill="none" stroke="#ff7f0e" stroke-width="2.8"><circle cx="167.2" cy="1058.7" r="4.5"/><circle cx="179.5" cy="1052.5" r="4.5"/><circle cx="191.7" cy="1063" r="4.5"/><circle cx="204.2" cy="1058" r="4.5"/><circle cx="216.3" cy="1060.5" r="4.5"/><circle cx="228.7" cy="1063" r="4.5"/><circle cx="241.3" cy="1055.3" r="4.5"/><circle cx="253.7" cy="1054.2" r="4.5"/><circle cx="265.8" cy="1049.7" r="4.5"/><circle cx="278.3" cy="1046.7" r="4.5"/><circle cx="290.8" cy="1030.8" r="4.5"/><circle cx="302.5" cy="1015" r="4.5"/><circle cx="315" cy="988" r="4.5"/><circle cx="328" cy="939.7" r="4.5"/><circle cx="340" cy="889.2" r="4.5"/><circle cx="352.2" cy="858.3" r="4.5"/><circle cx="364.5" cy="805.3" r="4.5"/><circle cx="376.7" cy="791.3" r="4.5"/><circle cx="389.2" cy="768.7" r="4.5"/><circle cx="401.7" cy="757.5" r="4.5"/><circle cx="414.2" cy="750.8" r="4.5"/><circle cx="426.3" cy="749.2" r="4.5"/><circle cx="438.8" cy="746.7" r="4.5"/><circle cx="451.2" cy="744.7" r="4.5"/><circle cx="463.3" cy="743.7" r="4.5"/><circle cx="475.8" cy="741.7" r="4.5"/><circle cx="488" cy="742.2" r="4.5"/><circle cx="500.3" cy="740.5" r="4.5"/><circle cx="512.8" cy="742.2" r="4.5"/><circle cx="525" cy="742.2" r="4.5"/><circle cx="537.5" cy="738" r="4.5"/><circle cx="549.7" cy="738.3" r="4.5"/><circle cx="562.2" cy="737.5" r="4.5"/></g>
<g fill="#ff7f0e"><circle cx="166.7" cy="735.8" r="5.8"/><circle cx="179.7" cy="738.3" r="5.8"/><circle cx="192.2" cy="733.3" r="5.8"/><circle cx="204.7" cy="734.7" r="5.8"/><circle cx="217.2" cy="738.3" r="5.8"/><circle cx="229.7" cy="733" r="5.8"/><circle cx="242.2" cy="741.7" r="5.8"/><circle cx="254.7" cy="740" r="5.8"/><circle cx="267.2" cy="752.5" r="5.8"/><circle cx="279.7" cy="761.7" r="5.8"/><circle cx="292.2" cy="767.2" r="5.8"/><circle cx="305" cy="793.3" r="5.8"/><circle cx="317.5" cy="832.2" r="5.8"/><circle cx="330" cy="874.2" r="5.8"/><circle cx="342.5" cy="928.3" r="5.8"/><circle cx="355" cy="961.7" r="5.8"/><circle cx="367.5" cy="1018.3" r="5.8"/><circle cx="380" cy="1026.5" r="5.8"/><circle cx="392.5" cy="1042.5" r="5.8"/><circle cx="405" cy="1045.8" r="5.8"/><circle cx="418" cy="1049.7" r="5.8"/><circle cx="430.5" cy="1053.3" r="5.8"/><circle cx="443" cy="1053.3" r="5.8"/><circle cx="455.3" cy="1052.2" r="5.8"/><circle cx="468" cy="1052.2" r="5.8"/><circle cx="480.5" cy="1049.7" r="5.8"/><circle cx="492.8" cy="1051.3" r="5.8"/><circle cx="505.3" cy="1047" r="5.8"/><circle cx="518" cy="1047.2" r="5.8"/><circle cx="530.5" cy="1046.3" r="5.8"/><circle cx="543" cy="1042.5" r="5.8"/><circle cx="555.5" cy="1042.5" r="5.8"/><circle cx="568" cy="1041.3" r="5.8"/></g>
<path d="M166.7 734.41 L169.22 734.53 L171.75 734.64 L174.27 734.76 L176.8 734.88 L179.32 735 L181.84 735.13 L184.37 735.25 L186.89 735.38 L189.42 735.51 L191.94 735.65 L194.46 735.79 L196.99 735.93 L199.51 736.08 L202.03 736.23 L204.56 736.39 L207.08 736.55 L209.61 736.72 L212.13 736.9 L214.65 737.1 L217.18 737.3 L219.7 737.51 L222.23 737.74 L224.75 737.99 L227.27 738.25 L229.8 738.53 L232.32 738.84 L234.85 739.18 L237.37 739.54 L239.89 739.94 L242.42 740.38 L244.94 740.86 L247.46 741.39 L249.99 741.98 L252.51 742.63 L255.04 743.35 L257.56 744.15 L260.08 745.05 L262.61 746.04 L265.13 747.15 L267.66 748.38 L270.18 749.76 L272.7 751.29 L275.23 753 L277.75 754.92 L280.28 757.04 L282.8 759.41 L285.32 762.05 L287.85 764.98 L290.37 768.22 L292.89 771.81 L295.42 775.78 L297.94 780.14 L300.47 784.93 L302.99 790.17 L305.51 795.87 L308.04 802.07 L310.56 808.75 L313.09 815.94 L315.61 823.62 L318.13 831.78 L320.66 840.39 L323.18 849.42 L325.71 858.83 L328.23 868.55 L330.75 878.53 L333.28 888.68 L335.8 898.93 L338.33 909.19 L340.85 919.38 L343.37 929.42 L345.9 939.23 L348.42 948.74 L350.94 957.88 L353.47 966.61 L355.99 974.88 L358.52 982.67 L361.04 989.94 L363.56 996.7 L366.09 1002.95 L368.61 1008.68 L371.14 1013.92 L373.66 1018.68 L376.18 1022.99 L378.71 1026.86 L381.23 1030.34 L383.76 1033.45 L386.28 1036.22 L388.8 1038.67 L391.33 1040.83 L393.85 1042.74 L396.37 1044.4 L398.9 1045.86 L401.42 1047.12 L403.95 1048.21 L406.47 1049.15 L408.99 1049.95 L411.52 1050.63 L414.04 1051.2 L416.57 1051.67 L419.09 1052.05 L421.61 1052.36 L424.14 1052.61 L426.66 1052.79 L429.19 1052.92 L431.71 1053 L434.23 1053.04 L436.76 1053.05 L439.28 1053.02 L441.81 1052.97 L444.33 1052.89 L446.85 1052.79 L449.38 1052.67 L451.9 1052.53 L454.42 1052.38 L456.95 1052.21 L459.47 1052.04 L462 1051.85 L464.52 1051.65 L467.04 1051.45 L469.57 1051.24 L472.09 1051.02 L474.62 1050.8 L477.14 1050.57 L479.66 1050.34 L482.19 1050.11 L484.71 1049.87 L487.24 1049.63 L489.76 1049.38 L492.28 1049.14 L494.81 1048.89 L497.33 1048.64 L499.85 1048.39 L502.38 1048.14 L504.9 1047.88 L507.43 1047.63 L509.95 1047.37 L512.47 1047.12 L515 1046.86 L517.52 1046.6 L520.05 1046.35 L522.57 1046.09 L525.09 1045.83 L527.62 1045.57 L530.14 1045.31 L532.67 1045.05 L535.19 1044.79 L537.71 1044.53 L540.24 1044.27 L542.76 1044.01 L545.28 1043.75 L547.81 1043.49 L550.33 1043.23 L552.86 1042.97 L555.38 1042.71 L557.9 1042.44 L560.43 1042.18 L562.95 1041.92 L565.48 1041.66 L568 1041.4" fill="none" stroke="#f58a2a" stroke-width="2.9"/>
<path d="M167.2 1058.05 L169.68 1058.11 L172.17 1058.17 L174.65 1058.23 L177.14 1058.29 L179.62 1058.34 L182.11 1058.39 L184.59 1058.45 L187.07 1058.49 L189.56 1058.54 L192.04 1058.58 L194.53 1058.62 L197.01 1058.66 L199.5 1058.69 L201.98 1058.71 L204.46 1058.73 L206.95 1058.75 L209.43 1058.75 L211.92 1058.75 L214.4 1058.74 L216.89 1058.72 L219.37 1058.68 L221.85 1058.63 L224.34 1058.57 L226.82 1058.49 L229.31 1058.39 L231.79 1058.27 L234.28 1058.12 L236.76 1057.94 L239.24 1057.74 L241.73 1057.49 L244.21 1057.21 L246.7 1056.88 L249.18 1056.5 L251.67 1056.06 L254.15 1055.56 L256.63 1054.99 L259.12 1054.33 L261.6 1053.58 L264.09 1052.73 L266.57 1051.77 L269.06 1050.68 L271.54 1049.45 L274.02 1048.06 L276.51 1046.49 L278.99 1044.73 L281.48 1042.76 L283.96 1040.56 L286.45 1038.1 L288.93 1035.36 L291.41 1032.31 L293.9 1028.94 L296.38 1025.21 L298.87 1021.1 L301.35 1016.6 L303.84 1011.68 L306.32 1006.32 L308.8 1000.52 L311.29 994.25 L313.77 987.53 L316.26 980.35 L318.74 972.73 L321.23 964.69 L323.71 956.26 L326.19 947.48 L328.68 938.4 L331.16 929.08 L333.65 919.58 L336.13 909.96 L338.62 900.3 L341.1 890.68 L343.58 881.15 L346.07 871.8 L348.55 862.68 L351.04 853.84 L353.52 845.35 L356.01 837.23 L358.49 829.53 L360.97 822.25 L363.46 815.42 L365.94 809.04 L368.43 803.1 L370.91 797.61 L373.39 792.55 L375.88 787.89 L378.36 783.63 L380.85 779.74 L383.33 776.2 L385.82 772.98 L388.3 770.06 L390.78 767.42 L393.27 765.03 L395.75 762.87 L398.24 760.92 L400.72 759.17 L403.21 757.59 L405.69 756.16 L408.17 754.87 L410.66 753.72 L413.14 752.67 L415.63 751.73 L418.11 750.87 L420.6 750.1 L423.08 749.4 L425.56 748.77 L428.05 748.19 L430.53 747.67 L433.02 747.19 L435.5 746.75 L437.99 746.35 L440.47 745.98 L442.95 745.63 L445.44 745.32 L447.92 745.02 L450.41 744.75 L452.89 744.49 L455.38 744.25 L457.86 744.02 L460.34 743.81 L462.83 743.6 L465.31 743.41 L467.8 743.22 L470.28 743.04 L472.77 742.87 L475.25 742.7 L477.73 742.54 L480.22 742.38 L482.7 742.23 L485.19 742.08 L487.67 741.94 L490.16 741.79 L492.64 741.65 L495.12 741.51 L497.61 741.38 L500.09 741.24 L502.58 741.11 L505.06 740.98 L507.55 740.85 L510.03 740.72 L512.51 740.59 L515 740.47 L517.48 740.34 L519.97 740.21 L522.45 740.09 L524.94 739.96 L527.42 739.84 L529.9 739.72 L532.39 739.59 L534.87 739.47 L537.36 739.35 L539.84 739.22 L542.33 739.1 L544.81 738.98 L547.29 738.86 L549.78 738.73 L552.26 738.61 L554.75 738.49 L557.23 738.37 L559.72 738.25 L562.2 738.13" fill="none" stroke="#f58a2a" stroke-width="2.9" stroke-dasharray="5.5 6.1"/>
<path d="M873 687.6V1098H1382" fill="none" stroke="#000" stroke-width="2" stroke-linecap="square"/>
<line x1="1382" y1="687.6" x2="1382" y2="1098" stroke="#000" stroke-width="2"/>
<line x1="924" y1="1098" x2="924" y2="1106" stroke="#000" stroke-width="2"/>
<text transform="translate(924 1138.4) scale(1 1.045)" font-size="33.5" text-anchor="middle">0</text>
<line x1="1025.8" y1="1098" x2="1025.8" y2="1106" stroke="#000" stroke-width="2"/>
<text transform="translate(1025.8 1138.4) scale(1 1.045)" font-size="33.5" text-anchor="middle">2</text>
<line x1="1127.6" y1="1098" x2="1127.6" y2="1106" stroke="#000" stroke-width="2"/>
<text transform="translate(1127.6 1138.4) scale(1 1.045)" font-size="33.5" text-anchor="middle">4</text>
<line x1="1229.4" y1="1098" x2="1229.4" y2="1106" stroke="#000" stroke-width="2"/>
<text transform="translate(1229.4 1138.4) scale(1 1.045)" font-size="33.5" text-anchor="middle">6</text>
<line x1="1331.2" y1="1098" x2="1331.2" y2="1106" stroke="#000" stroke-width="2"/>
<text transform="translate(1331.2 1138.4) scale(1 1.045)" font-size="33.5" text-anchor="middle">8</text>
<line x1="873.1" y1="1098" x2="873.1" y2="1102" stroke="#000" stroke-width="2"/>
<line x1="974.9" y1="1098" x2="974.9" y2="1102" stroke="#000" stroke-width="2"/>
<line x1="1076.7" y1="1098" x2="1076.7" y2="1102" stroke="#000" stroke-width="2"/>
<line x1="1178.5" y1="1098" x2="1178.5" y2="1102" stroke="#000" stroke-width="2"/>
<line x1="1280.3" y1="1098" x2="1280.3" y2="1102" stroke="#000" stroke-width="2"/>
<line x1="1382.1" y1="1098" x2="1382.1" y2="1102" stroke="#000" stroke-width="2"/>
<line x1="865" y1="713.2" x2="873" y2="713.2" stroke="#000" stroke-width="2"/>
<text transform="translate(859.7 725) scale(1 1.045)" font-size="33.5" text-anchor="end">0</text>
<line x1="865" y1="764.5" x2="873" y2="764.5" stroke="#000" stroke-width="2"/>
<text transform="translate(859.7 776.3) scale(1 1.045)" font-size="33.5" text-anchor="end">-5</text>
<line x1="865" y1="815.8" x2="873" y2="815.8" stroke="#000" stroke-width="2"/>
<text transform="translate(859.7 827.6) scale(1 1.045)" font-size="33.5" text-anchor="end">-10</text>
<line x1="865" y1="867.1" x2="873" y2="867.1" stroke="#000" stroke-width="2"/>
<text transform="translate(859.7 878.9) scale(1 1.045)" font-size="33.5" text-anchor="end">-15</text>
<line x1="865" y1="918.4" x2="873" y2="918.4" stroke="#000" stroke-width="2"/>
<text transform="translate(859.7 930.2) scale(1 1.045)" font-size="33.5" text-anchor="end">-20</text>
<line x1="865" y1="969.7" x2="873" y2="969.7" stroke="#000" stroke-width="2"/>
<text transform="translate(859.7 981.5) scale(1 1.045)" font-size="33.5" text-anchor="end">-25</text>
<line x1="865" y1="1021" x2="873" y2="1021" stroke="#000" stroke-width="2"/>
<text transform="translate(859.7 1032.8) scale(1 1.045)" font-size="33.5" text-anchor="end">-30</text>
<line x1="865" y1="1072.3" x2="873" y2="1072.3" stroke="#000" stroke-width="2"/>
<text transform="translate(859.7 1084.1) scale(1 1.045)" font-size="33.5" text-anchor="end">-35</text>
<line x1="869" y1="687.55" x2="873" y2="687.55" stroke="#000" stroke-width="2"/>
<line x1="869" y1="738.85" x2="873" y2="738.85" stroke="#000" stroke-width="2"/>
<line x1="869" y1="790.15" x2="873" y2="790.15" stroke="#000" stroke-width="2"/>
<line x1="869" y1="841.45" x2="873" y2="841.45" stroke="#000" stroke-width="2"/>
<line x1="869" y1="892.75" x2="873" y2="892.75" stroke="#000" stroke-width="2"/>
<line x1="869" y1="944.05" x2="873" y2="944.05" stroke="#000" stroke-width="2"/>
<line x1="869" y1="995.35" x2="873" y2="995.35" stroke="#000" stroke-width="2"/>
<line x1="869" y1="1046.65" x2="873" y2="1046.65" stroke="#000" stroke-width="2"/>
<line x1="869" y1="1097.95" x2="873" y2="1097.95" stroke="#000" stroke-width="2"/>
<line x1="1374" y1="687.6" x2="1382" y2="687.6" stroke="#000" stroke-width="2"/>
<text transform="translate(1391.4 699.4) scale(1 1.045)" font-size="33.5" text-anchor="start">300</text>
<line x1="1374" y1="851.76" x2="1382" y2="851.76" stroke="#000" stroke-width="2"/>
<text transform="translate(1391.4 863.56) scale(1 1.045)" font-size="33.5" text-anchor="start">200</text>
<line x1="1374" y1="1015.92" x2="1382" y2="1015.92" stroke="#000" stroke-width="2"/>
<text transform="translate(1391.4 1027.72) scale(1 1.045)" font-size="33.5" text-anchor="start">100</text>
<line x1="1378" y1="769.68" x2="1382" y2="769.68" stroke="#000" stroke-width="2"/>
<line x1="1378" y1="933.84" x2="1382" y2="933.84" stroke="#000" stroke-width="2"/>
<line x1="1378" y1="1098" x2="1382" y2="1098" stroke="#000" stroke-width="2"/>
<text transform="translate(792.4 656.2)" font-size="67.5" text-anchor="start">c</text>
<text transform="translate(801.5 890) rotate(-90) scale(1 1.035)" font-size="40.3" text-anchor="middle">Ellipticity (mdeg)</text>
<text transform="translate(1486.3 880.5) rotate(-90) scale(1 1.035)" font-size="40.3" text-anchor="middle">Fluorescence (a.u.)</text>
<text transform="translate(1141.1 1175.5) scale(1 1.035)" font-size="40.7" text-anchor="middle">[Urea] (M)</text>
<g fill="none" stroke="#ff0a0a" stroke-width="3.0"><path d="M923.7 1058.05L929.35 1063.7L923.7 1069.35L918.05 1063.7Z"/><path d="M933.8 1055.15L939.45 1060.8L933.8 1066.45L928.15 1060.8Z"/><path d="M943.8 1055.65L949.45 1061.3L943.8 1066.95L938.15 1061.3Z"/><path d="M953.8 1056.35L959.45 1062L953.8 1067.65L948.15 1062Z"/><path d="M964.2 1054.35L969.85 1060L964.2 1065.65L958.55 1060Z"/><path d="M974.2 1057.65L979.85 1063.3L974.2 1068.95L968.55 1063.3Z"/><path d="M984.5 1060.15L990.15 1065.8L984.5 1071.45L978.85 1065.8Z"/><path d="M994.5 1059.35L1000.15 1065L994.5 1070.65L988.85 1065Z"/><path d="M1004.7 1058.55L1010.35 1064.2L1004.7 1069.85L999.05 1064.2Z"/><path d="M1014.7 1056.85L1020.35 1062.5L1014.7 1068.15L1009.05 1062.5Z"/><path d="M1025 1054.35L1030.65 1060L1025 1065.65L1019.35 1060Z"/><path d="M1035.3 1048.55L1040.95 1054.2L1035.3 1059.85L1029.65 1054.2Z"/><path d="M1045.3 1038.55L1050.95 1044.2L1045.3 1049.85L1039.65 1044.2Z"/><path d="M1055.5 1030.15L1061.15 1035.8L1055.5 1041.45L1049.85 1035.8Z"/><path d="M1065.8 998.55L1071.45 1004.2L1065.8 1009.85L1060.15 1004.2Z"/><path d="M1075.3 968.55L1080.95 974.2L1075.3 979.85L1069.65 974.2Z"/><path d="M1085.3 937.65L1090.95 943.3L1085.3 948.95L1079.65 943.3Z"/><path d="M1096.3 888.55L1101.95 894.2L1096.3 899.85L1090.65 894.2Z"/><path d="M1106.2 841.05L1111.85 846.7L1106.2 852.35L1100.55 846.7Z"/><path d="M1116.2 808.05L1121.85 813.7L1116.2 819.35L1110.55 813.7Z"/><path d="M1125.8 779.05L1131.45 784.7L1125.8 790.35L1120.15 784.7Z"/><path d="M1135.8 765.85L1141.45 771.5L1135.8 777.15L1130.15 771.5Z"/><path d="M1146.2 756.05L1151.85 761.7L1146.2 767.35L1140.55 761.7Z"/><path d="M1156.7 749.05L1162.35 754.7L1156.7 760.35L1151.05 754.7Z"/><path d="M1166.7 744.35L1172.35 750L1166.7 755.65L1161.05 750Z"/><path d="M1176.7 742.35L1182.35 748L1176.7 753.65L1171.05 748Z"/><path d="M1186.7 739.35L1192.35 745L1186.7 750.65L1181.05 745Z"/><path d="M1197 738.55L1202.65 744.2L1197 749.85L1191.35 744.2Z"/><path d="M1207 736.85L1212.65 742.5L1207 748.15L1201.35 742.5Z"/><path d="M1217.2 736.05L1222.85 741.7L1217.2 747.35L1211.55 741.7Z"/><path d="M1227.2 736.05L1232.85 741.7L1227.2 747.35L1221.55 741.7Z"/><path d="M1237.2 735.15L1242.85 740.8L1237.2 746.45L1231.55 740.8Z"/><path d="M1247.5 735.15L1253.15 740.8L1247.5 746.45L1241.85 740.8Z"/><path d="M1257.5 734.35L1263.15 740L1257.5 745.65L1251.85 740Z"/><path d="M1267.5 734.35L1273.15 740L1267.5 745.65L1261.85 740Z"/><path d="M1277.5 733.55L1283.15 739.2L1277.5 744.85L1271.85 739.2Z"/><path d="M1287.8 733.55L1293.45 739.2L1287.8 744.85L1282.15 739.2Z"/><path d="M1298 732.65L1303.65 738.3L1298 743.95L1292.35 738.3Z"/><path d="M1308 732.35L1313.65 738L1308 743.65L1302.35 738Z"/><path d="M1318.3 731.85L1323.95 737.5L1318.3 743.15L1312.65 737.5Z"/><path d="M1328.3 730.15L1333.95 735.8L1328.3 741.45L1322.65 735.8Z"/></g>
<g fill="#ff0a0a"><path d="M923.3 735.55L931.05 743.3L923.3 751.05L915.55 743.3Z"/><path d="M933.3 735.55L941.05 743.3L933.3 751.05L925.55 743.3Z"/><path d="M943.7 734.25L951.45 742L943.7 749.75L935.95 742Z"/><path d="M954.2 733.05L961.95 740.8L954.2 748.55L946.45 740.8Z"/><path d="M964.2 731.95L971.95 739.7L964.2 747.45L956.45 739.7Z"/><path d="M974.2 731.95L981.95 739.7L974.2 747.45L966.45 739.7Z"/><path d="M984.2 730.95L991.95 738.7L984.2 746.45L976.45 738.7Z"/><path d="M994.5 728.95L1002.25 736.7L994.5 744.45L986.75 736.7Z"/><path d="M1004.7 728.05L1012.45 735.8L1004.7 743.55L996.95 735.8Z"/><path d="M1014.7 734.75L1022.45 742.5L1014.7 750.25L1006.95 742.5Z"/><path d="M1024.7 731.95L1032.45 739.7L1024.7 747.45L1016.95 739.7Z"/><path d="M1035 733.05L1042.75 740.8L1035 748.55L1027.25 740.8Z"/><path d="M1045 743.55L1052.75 751.3L1045 759.05L1037.25 751.3Z"/><path d="M1055 762.25L1062.75 770L1055 777.75L1047.25 770Z"/><path d="M1065.5 783.55L1073.25 791.3L1065.5 799.05L1057.75 791.3Z"/><path d="M1075.3 816.45L1083.05 824.2L1075.3 831.95L1067.55 824.2Z"/><path d="M1085.5 866.95L1093.25 874.7L1085.5 882.45L1077.75 874.7Z"/><path d="M1096.3 910.55L1104.05 918.3L1096.3 926.05L1088.55 918.3Z"/><path d="M1106.2 963.55L1113.95 971.3L1106.2 979.05L1098.45 971.3Z"/><path d="M1116.2 994.75L1123.95 1002.5L1116.2 1010.25L1108.45 1002.5Z"/><path d="M1125.8 1023.95L1133.55 1031.7L1125.8 1039.45L1118.05 1031.7Z"/><path d="M1136.3 1040.55L1144.05 1048.3L1136.3 1056.05L1128.55 1048.3Z"/><path d="M1145.8 1053.95L1153.55 1061.7L1145.8 1069.45L1138.05 1061.7Z"/><path d="M1156.3 1058.95L1164.05 1066.7L1156.3 1074.45L1148.55 1066.7Z"/><path d="M1166.3 1062.25L1174.05 1070L1166.3 1077.75L1158.55 1070Z"/><path d="M1176.7 1062.25L1184.45 1070L1176.7 1077.75L1168.95 1070Z"/><path d="M1186.7 1063.95L1194.45 1071.7L1186.7 1079.45L1178.95 1071.7Z"/><path d="M1196.7 1063.55L1204.45 1071.3L1196.7 1079.05L1188.95 1071.3Z"/><path d="M1206.7 1062.25L1214.45 1070L1206.7 1077.75L1198.95 1070Z"/><path d="M1216.7 1062.25L1224.45 1070L1216.7 1077.75L1208.95 1070Z"/><path d="M1227.2 1059.75L1234.95 1067.5L1227.2 1075.25L1219.45 1067.5Z"/><path d="M1237.2 1058.55L1244.95 1066.3L1237.2 1074.05L1229.45 1066.3Z"/><path d="M1247.2 1058.95L1254.95 1066.7L1247.2 1074.45L1239.45 1066.7Z"/><path d="M1257.5 1057.25L1265.25 1065L1257.5 1072.75L1249.75 1065Z"/><path d="M1267.5 1055.55L1275.25 1063.3L1267.5 1071.05L1259.75 1063.3Z"/><path d="M1277.5 1055.25L1285.25 1063L1277.5 1070.75L1269.75 1063Z"/><path d="M1287.8 1053.05L1295.55 1060.8L1287.8 1068.55L1280.05 1060.8Z"/><path d="M1298 1052.25L1305.75 1060L1298 1067.75L1290.25 1060Z"/><path d="M1308 1050.55L1315.75 1058.3L1308 1066.05L1300.25 1058.3Z"/><path d="M1318.3 1050.95L1326.05 1058.7L1318.3 1066.45L1310.55 1058.7Z"/><path d="M1329.2 1047.25L1336.95 1055L1329.2 1062.75L1321.45 1055Z"/></g>
<path d="M923.3 744.6 L925.85 744.28 L928.41 743.96 L930.96 743.64 L933.51 743.32 L936.06 743 L938.62 742.69 L941.17 742.37 L943.72 742.06 L946.28 741.75 L948.83 741.44 L951.38 741.13 L953.93 740.83 L956.49 740.53 L959.04 740.23 L961.59 739.94 L964.15 739.65 L966.7 739.37 L969.25 739.1 L971.8 738.83 L974.36 738.57 L976.91 738.33 L979.46 738.09 L982.02 737.87 L984.57 737.66 L987.12 737.47 L989.67 737.3 L992.23 737.16 L994.78 737.04 L997.33 736.96 L999.88 736.91 L1002.44 736.9 L1004.99 736.94 L1007.54 737.04 L1010.1 737.19 L1012.65 737.42 L1015.2 737.73 L1017.75 738.14 L1020.31 738.65 L1022.86 739.29 L1025.41 740.06 L1027.97 741 L1030.52 742.12 L1033.07 743.44 L1035.62 744.99 L1038.18 746.81 L1040.73 748.91 L1043.28 751.35 L1045.84 754.15 L1048.39 757.36 L1050.94 761.02 L1053.49 765.16 L1056.05 769.84 L1058.6 775.09 L1061.15 780.96 L1063.71 787.47 L1066.26 794.66 L1068.81 802.53 L1071.36 811.11 L1073.92 820.37 L1076.47 830.31 L1079.02 840.86 L1081.58 851.99 L1084.13 863.6 L1086.68 875.6 L1089.23 887.88 L1091.79 900.33 L1094.34 912.81 L1096.89 925.2 L1099.45 937.37 L1102 949.22 L1104.55 960.62 L1107.1 971.51 L1109.66 981.8 L1112.21 991.45 L1114.76 1000.42 L1117.32 1008.69 L1119.87 1016.27 L1122.42 1023.16 L1124.97 1029.4 L1127.53 1035 L1130.08 1040.01 L1132.63 1044.46 L1135.18 1048.4 L1137.74 1051.87 L1140.29 1054.91 L1142.84 1057.56 L1145.4 1059.87 L1147.95 1061.86 L1150.5 1063.58 L1153.05 1065.05 L1155.61 1066.3 L1158.16 1067.35 L1160.71 1068.24 L1163.27 1068.97 L1165.82 1069.57 L1168.37 1070.06 L1170.92 1070.44 L1173.48 1070.74 L1176.03 1070.95 L1178.58 1071.11 L1181.14 1071.2 L1183.69 1071.24 L1186.24 1071.23 L1188.79 1071.19 L1191.35 1071.11 L1193.9 1071 L1196.45 1070.87 L1199.01 1070.72 L1201.56 1070.54 L1204.11 1070.35 L1206.66 1070.14 L1209.22 1069.92 L1211.77 1069.69 L1214.32 1069.45 L1216.88 1069.21 L1219.43 1068.95 L1221.98 1068.69 L1224.53 1068.42 L1227.09 1068.15 L1229.64 1067.87 L1232.19 1067.59 L1234.75 1067.31 L1237.3 1067.03 L1239.85 1066.74 L1242.4 1066.45 L1244.96 1066.16 L1247.51 1065.86 L1250.06 1065.57 L1252.62 1065.27 L1255.17 1064.98 L1257.72 1064.68 L1260.27 1064.38 L1262.83 1064.08 L1265.38 1063.78 L1267.93 1063.48 L1270.48 1063.18 L1273.04 1062.88 L1275.59 1062.58 L1278.14 1062.28 L1280.7 1061.98 L1283.25 1061.68 L1285.8 1061.37 L1288.35 1061.07 L1290.91 1060.77 L1293.46 1060.47 L1296.01 1060.17 L1298.57 1059.86 L1301.12 1059.56 L1303.67 1059.26 L1306.22 1058.95 L1308.78 1058.65 L1311.33 1058.35 L1313.88 1058.05 L1316.44 1057.74 L1318.99 1057.44 L1321.54 1057.14 L1324.09 1056.83 L1326.65 1056.53 L1329.2 1056.23" fill="none" stroke="#f24848" stroke-width="2.9"/>
<path d="M923.7 1061.28 L926.24 1061.41 L928.79 1061.54 L931.33 1061.67 L933.88 1061.8 L936.42 1061.93 L938.97 1062.06 L941.51 1062.18 L944.06 1062.31 L946.6 1062.43 L949.15 1062.55 L951.69 1062.67 L954.24 1062.79 L956.78 1062.9 L959.33 1063.01 L961.87 1063.12 L964.41 1063.22 L966.96 1063.31 L969.5 1063.4 L972.05 1063.49 L974.59 1063.56 L977.14 1063.63 L979.68 1063.69 L982.23 1063.73 L984.77 1063.76 L987.32 1063.78 L989.86 1063.77 L992.41 1063.75 L994.95 1063.7 L997.49 1063.62 L1000.04 1063.52 L1002.58 1063.37 L1005.13 1063.18 L1007.67 1062.95 L1010.22 1062.65 L1012.76 1062.3 L1015.31 1061.87 L1017.85 1061.35 L1020.4 1060.74 L1022.94 1060.02 L1025.49 1059.17 L1028.03 1058.18 L1030.58 1057.03 L1033.12 1055.7 L1035.66 1054.15 L1038.21 1052.37 L1040.75 1050.33 L1043.3 1047.99 L1045.84 1045.32 L1048.39 1042.29 L1050.93 1038.85 L1053.48 1034.97 L1056.02 1030.61 L1058.57 1025.73 L1061.11 1020.3 L1063.66 1014.29 L1066.2 1007.66 L1068.75 1000.41 L1071.29 992.53 L1073.83 984.03 L1076.38 974.92 L1078.92 965.24 L1081.47 955.06 L1084.01 944.43 L1086.56 933.45 L1089.1 922.22 L1091.65 910.83 L1094.19 899.41 L1096.74 888.06 L1099.28 876.9 L1101.83 866.04 L1104.37 855.56 L1106.92 845.54 L1109.46 836.05 L1112 827.13 L1114.55 818.8 L1117.09 811.1 L1119.64 804 L1122.18 797.51 L1124.73 791.61 L1127.27 786.26 L1129.82 781.44 L1132.36 777.11 L1134.91 773.23 L1137.45 769.77 L1140 766.69 L1142.54 763.95 L1145.08 761.52 L1147.63 759.36 L1150.17 757.45 L1152.72 755.76 L1155.26 754.26 L1157.81 752.93 L1160.35 751.76 L1162.9 750.72 L1165.44 749.8 L1167.99 748.98 L1170.53 748.25 L1173.08 747.59 L1175.62 747.01 L1178.17 746.49 L1180.71 746.02 L1183.25 745.59 L1185.8 745.21 L1188.34 744.86 L1190.89 744.54 L1193.43 744.24 L1195.98 743.97 L1198.52 743.72 L1201.07 743.49 L1203.61 743.27 L1206.16 743.07 L1208.7 742.87 L1211.25 742.69 L1213.79 742.52 L1216.34 742.35 L1218.88 742.19 L1221.42 742.03 L1223.97 741.88 L1226.51 741.74 L1229.06 741.59 L1231.6 741.45 L1234.15 741.32 L1236.69 741.18 L1239.24 741.05 L1241.78 740.92 L1244.33 740.79 L1246.87 740.67 L1249.42 740.54 L1251.96 740.42 L1254.51 740.29 L1257.05 740.17 L1259.59 740.05 L1262.14 739.93 L1264.68 739.8 L1267.23 739.68 L1269.77 739.56 L1272.32 739.44 L1274.86 739.32 L1277.41 739.2 L1279.95 739.08 L1282.5 738.96 L1285.04 738.85 L1287.59 738.73 L1290.13 738.61 L1292.67 738.49 L1295.22 738.37 L1297.76 738.25 L1300.31 738.13 L1302.85 738.02 L1305.4 737.9 L1307.94 737.78 L1310.49 737.66 L1313.03 737.54 L1315.58 737.43 L1318.12 737.31 L1320.67 737.19 L1323.21 737.07 L1325.76 736.95 L1328.3 736.84" fill="none" stroke="#f24848" stroke-width="2.9" stroke-dasharray="5.5 6.1"/>
<path d="M114.5 1296V1706H623.7" fill="none" stroke="#000" stroke-width="2" stroke-linecap="square"/>
<line x1="623.7" y1="1296" x2="623.7" y2="1706" stroke="#000" stroke-width="2"/>
<line x1="165.2" y1="1706" x2="165.2" y2="1714" stroke="#000" stroke-width="2"/>
<text transform="translate(165.2 1747) scale(1 1.045)" font-size="33.5" text-anchor="middle">0</text>
<line x1="267.04" y1="1706" x2="267.04" y2="1714" stroke="#000" stroke-width="2"/>
<text transform="translate(267.04 1747) scale(1 1.045)" font-size="33.5" text-anchor="middle">2</text>
<line x1="368.88" y1="1706" x2="368.88" y2="1714" stroke="#000" stroke-width="2"/>
<text transform="translate(368.88 1747) scale(1 1.045)" font-size="33.5" text-anchor="middle">4</text>
<line x1="470.72" y1="1706" x2="470.72" y2="1714" stroke="#000" stroke-width="2"/>
<text transform="translate(470.72 1747) scale(1 1.045)" font-size="33.5" text-anchor="middle">6</text>
<line x1="572.56" y1="1706" x2="572.56" y2="1714" stroke="#000" stroke-width="2"/>
<text transform="translate(572.56 1747) scale(1 1.045)" font-size="33.5" text-anchor="middle">8</text>
<line x1="114.28" y1="1706" x2="114.28" y2="1710" stroke="#000" stroke-width="2"/>
<line x1="216.12" y1="1706" x2="216.12" y2="1710" stroke="#000" stroke-width="2"/>
<line x1="317.96" y1="1706" x2="317.96" y2="1710" stroke="#000" stroke-width="2"/>
<line x1="419.8" y1="1706" x2="419.8" y2="1710" stroke="#000" stroke-width="2"/>
<line x1="521.64" y1="1706" x2="521.64" y2="1710" stroke="#000" stroke-width="2"/>
<line x1="623.48" y1="1706" x2="623.48" y2="1710" stroke="#000" stroke-width="2"/>
<line x1="106.5" y1="1325.3" x2="114.5" y2="1325.3" stroke="#000" stroke-width="2"/>
<text transform="translate(102.8 1337.1) scale(1 1.045)" font-size="33.5" text-anchor="end">0</text>
<line x1="106.5" y1="1383.87" x2="114.5" y2="1383.87" stroke="#000" stroke-width="2"/>
<text transform="translate(102.8 1395.67) scale(1 1.045)" font-size="33.5" text-anchor="end">-5</text>
<line x1="106.5" y1="1442.44" x2="114.5" y2="1442.44" stroke="#000" stroke-width="2"/>
<text transform="translate(102.8 1454.24) scale(1 1.045)" font-size="33.5" text-anchor="end">-10</text>
<line x1="106.5" y1="1501.01" x2="114.5" y2="1501.01" stroke="#000" stroke-width="2"/>
<text transform="translate(102.8 1512.81) scale(1 1.045)" font-size="33.5" text-anchor="end">-15</text>
<line x1="106.5" y1="1559.58" x2="114.5" y2="1559.58" stroke="#000" stroke-width="2"/>
<text transform="translate(102.8 1571.38) scale(1 1.045)" font-size="33.5" text-anchor="end">-20</text>
<line x1="106.5" y1="1618.15" x2="114.5" y2="1618.15" stroke="#000" stroke-width="2"/>
<text transform="translate(102.8 1629.95) scale(1 1.045)" font-size="33.5" text-anchor="end">-25</text>
<line x1="106.5" y1="1676.72" x2="114.5" y2="1676.72" stroke="#000" stroke-width="2"/>
<text transform="translate(102.8 1688.52) scale(1 1.045)" font-size="33.5" text-anchor="end">-30</text>
<line x1="110.5" y1="1296.01" x2="114.5" y2="1296.01" stroke="#000" stroke-width="2"/>
<line x1="110.5" y1="1354.59" x2="114.5" y2="1354.59" stroke="#000" stroke-width="2"/>
<line x1="110.5" y1="1413.15" x2="114.5" y2="1413.15" stroke="#000" stroke-width="2"/>
<line x1="110.5" y1="1471.72" x2="114.5" y2="1471.72" stroke="#000" stroke-width="2"/>
<line x1="110.5" y1="1530.3" x2="114.5" y2="1530.3" stroke="#000" stroke-width="2"/>
<line x1="110.5" y1="1588.87" x2="114.5" y2="1588.87" stroke="#000" stroke-width="2"/>
<line x1="110.5" y1="1647.43" x2="114.5" y2="1647.43" stroke="#000" stroke-width="2"/>
<line x1="110.5" y1="1706.01" x2="114.5" y2="1706.01" stroke="#000" stroke-width="2"/>
<line x1="615.7" y1="1347.25" x2="623.7" y2="1347.25" stroke="#000" stroke-width="2"/>
<text transform="translate(630.3 1359.05) scale(1 1.045)" font-size="33.5" text-anchor="start">200</text>
<line x1="615.7" y1="1449.75" x2="623.7" y2="1449.75" stroke="#000" stroke-width="2"/>
<text transform="translate(630.3 1461.55) scale(1 1.045)" font-size="33.5" text-anchor="start">150</text>
<line x1="615.7" y1="1552.25" x2="623.7" y2="1552.25" stroke="#000" stroke-width="2"/>
<text transform="translate(630.3 1564.05) scale(1 1.045)" font-size="33.5" text-anchor="start">100</text>
<line x1="615.7" y1="1654.75" x2="623.7" y2="1654.75" stroke="#000" stroke-width="2"/>
<text transform="translate(630.3 1666.55) scale(1 1.045)" font-size="33.5" text-anchor="start">50</text>
<line x1="619.7" y1="1296" x2="623.7" y2="1296" stroke="#000" stroke-width="2"/>
<line x1="619.7" y1="1398.5" x2="623.7" y2="1398.5" stroke="#000" stroke-width="2"/>
<line x1="619.7" y1="1501" x2="623.7" y2="1501" stroke="#000" stroke-width="2"/>
<line x1="619.7" y1="1603.5" x2="623.7" y2="1603.5" stroke="#000" stroke-width="2"/>
<line x1="619.7" y1="1706" x2="623.7" y2="1706" stroke="#000" stroke-width="2"/>
<text transform="translate(28.7 1279.8)" font-size="67.5" text-anchor="start">d</text>
<text transform="translate(34.6 1505.9) rotate(-90) scale(1 1.035)" font-size="40.3" text-anchor="middle">Ellipticity (mdeg)</text>
<text transform="translate(726.3 1496.3) rotate(-90) scale(1 1.035)" font-size="39.8" text-anchor="middle">Fluorescence (a.u.)</text>
<text transform="translate(382.2 1792.1) scale(1 1.035)" font-size="40.7" text-anchor="middle">[Urea] (M)</text>
<g fill="none" stroke="#0a0af0" stroke-width="2.9"><rect x="161.35" y="1665.25" width="7.9" height="7.9"/><rect x="173.85" y="1659.35" width="7.9" height="7.9"/><rect x="186.35" y="1660.25" width="7.9" height="7.9"/><rect x="199.05" y="1662.75" width="7.9" height="7.9"/><rect x="211.35" y="1666.05" width="7.9" height="7.9"/><rect x="223.85" y="1665.75" width="7.9" height="7.9"/><rect x="236.85" y="1661.85" width="7.9" height="7.9"/><rect x="249.35" y="1663.05" width="7.9" height="7.9"/><rect x="261.85" y="1652.75" width="7.9" height="7.9"/><rect x="274.35" y="1645.75" width="7.9" height="7.9"/><rect x="286.85" y="1624.75" width="7.9" height="7.9"/><rect x="299.35" y="1588.05" width="7.9" height="7.9"/><rect x="312.25" y="1542.35" width="7.9" height="7.9"/><rect x="324.85" y="1495.25" width="7.9" height="7.9"/><rect x="337.35" y="1445.75" width="7.9" height="7.9"/><rect x="349.75" y="1401.85" width="7.9" height="7.9"/><rect x="362.35" y="1385.75" width="7.9" height="7.9"/><rect x="375.05" y="1370.25" width="7.9" height="7.9"/><rect x="387.75" y="1361.85" width="7.9" height="7.9"/><rect x="400.25" y="1355.55" width="7.9" height="7.9"/><rect x="412.75" y="1356.05" width="7.9" height="7.9"/><rect x="425.25" y="1350.75" width="7.9" height="7.9"/><rect x="437.75" y="1354.35" width="7.9" height="7.9"/><rect x="450.25" y="1351.05" width="7.9" height="7.9"/><rect x="462.75" y="1351.85" width="7.9" height="7.9"/><rect x="475.55" y="1345.25" width="7.9" height="7.9"/><rect x="488.05" y="1344.75" width="7.9" height="7.9"/><rect x="500.55" y="1345.55" width="7.9" height="7.9"/><rect x="513.05" y="1343.55" width="7.9" height="7.9"/><rect x="525.55" y="1342.35" width="7.9" height="7.9"/><rect x="538.55" y="1339.85" width="7.9" height="7.9"/><rect x="551.05" y="1343.55" width="7.9" height="7.9"/><rect x="563.55" y="1338.25" width="7.9" height="7.9"/></g>
<g fill="#0a0af0"><rect x="159.9" y="1328.8" width="10.8" height="10.8"/><rect x="172.4" y="1326.3" width="10.8" height="10.8"/><rect x="185.1" y="1324.3" width="10.8" height="10.8"/><rect x="197.9" y="1336.3" width="10.8" height="10.8"/><rect x="210.8" y="1336.6" width="10.8" height="10.8"/><rect x="223.3" y="1339.6" width="10.8" height="10.8"/><rect x="235.9" y="1337.6" width="10.8" height="10.8"/><rect x="249.1" y="1330.1" width="10.8" height="10.8"/><rect x="261.8" y="1349.3" width="10.8" height="10.8"/><rect x="274.3" y="1362.9" width="10.8" height="10.8"/><rect x="286.8" y="1397.1" width="10.8" height="10.8"/><rect x="299.6" y="1414.9" width="10.8" height="10.8"/><rect x="312.4" y="1456.6" width="10.8" height="10.8"/><rect x="325.6" y="1511.8" width="10.8" height="10.8"/><rect x="337.9" y="1579.3" width="10.8" height="10.8"/><rect x="350.8" y="1607.6" width="10.8" height="10.8"/><rect x="363.4" y="1629.6" width="10.8" height="10.8"/><rect x="376.1" y="1647.6" width="10.8" height="10.8"/><rect x="389.1" y="1653.3" width="10.8" height="10.8"/><rect x="401.6" y="1658.8" width="10.8" height="10.8"/><rect x="414.3" y="1661.3" width="10.8" height="10.8"/><rect x="427.1" y="1661.6" width="10.8" height="10.8"/><rect x="439.6" y="1661.3" width="10.8" height="10.8"/><rect x="452.9" y="1660.1" width="10.8" height="10.8"/><rect x="465.4" y="1659.3" width="10.8" height="10.8"/><rect x="477.9" y="1658.8" width="10.8" height="10.8"/><rect x="490.8" y="1657.9" width="10.8" height="10.8"/><rect x="503.3" y="1657.1" width="10.8" height="10.8"/><rect x="516.3" y="1656.3" width="10.8" height="10.8"/><rect x="529.1" y="1654.6" width="10.8" height="10.8"/><rect x="541.8" y="1652.9" width="10.8" height="10.8"/><rect x="554.6" y="1651.3" width="10.8" height="10.8"/><rect x="567.6" y="1649.3" width="10.8" height="10.8"/></g>
<path d="M165.3 1332.54 L167.86 1332.8 L170.43 1333.05 L172.99 1333.31 L175.56 1333.57 L178.12 1333.84 L180.68 1334.1 L183.25 1334.37 L185.81 1334.64 L188.38 1334.92 L190.94 1335.2 L193.51 1335.48 L196.07 1335.77 L198.63 1336.07 L201.2 1336.37 L203.76 1336.68 L206.33 1337 L208.89 1337.34 L211.45 1337.68 L214.02 1338.04 L216.58 1338.41 L219.15 1338.8 L221.71 1339.21 L224.28 1339.65 L226.84 1340.11 L229.4 1340.6 L231.97 1341.13 L234.53 1341.69 L237.1 1342.3 L239.66 1342.96 L242.22 1343.68 L244.79 1344.46 L247.35 1345.32 L249.92 1346.26 L252.48 1347.29 L255.05 1348.44 L257.61 1349.7 L260.17 1351.1 L262.74 1352.65 L265.3 1354.37 L267.87 1356.28 L270.43 1358.41 L272.99 1360.78 L275.56 1363.42 L278.12 1366.35 L280.69 1369.6 L283.25 1373.2 L285.82 1377.19 L288.38 1381.6 L290.94 1386.45 L293.51 1391.78 L296.07 1397.62 L298.64 1403.98 L301.2 1410.87 L303.76 1418.32 L306.33 1426.32 L308.89 1434.85 L311.46 1443.9 L314.02 1453.42 L316.58 1463.38 L319.15 1473.7 L321.71 1484.32 L324.28 1495.15 L326.84 1506.09 L329.41 1517.07 L331.97 1527.96 L334.53 1538.7 L337.1 1549.17 L339.66 1559.3 L342.23 1569.02 L344.79 1578.27 L347.35 1587.01 L349.92 1595.2 L352.48 1602.82 L355.05 1609.87 L357.61 1616.35 L360.18 1622.26 L362.74 1627.64 L365.3 1632.5 L367.87 1636.87 L370.43 1640.78 L373 1644.28 L375.56 1647.38 L378.12 1650.13 L380.69 1652.55 L383.25 1654.67 L385.82 1656.53 L388.38 1658.16 L390.95 1659.57 L393.51 1660.79 L396.07 1661.84 L398.64 1662.74 L401.2 1663.5 L403.77 1664.15 L406.33 1664.69 L408.89 1665.15 L411.46 1665.52 L414.02 1665.81 L416.59 1666.05 L419.15 1666.23 L421.72 1666.36 L424.28 1666.45 L426.84 1666.51 L429.41 1666.53 L431.97 1666.52 L434.54 1666.48 L437.1 1666.43 L439.66 1666.35 L442.23 1666.26 L444.79 1666.15 L447.36 1666.03 L449.92 1665.9 L452.48 1665.76 L455.05 1665.61 L457.61 1665.45 L460.18 1665.29 L462.74 1665.12 L465.31 1664.95 L467.87 1664.77 L470.43 1664.58 L473 1664.4 L475.56 1664.21 L478.13 1664.02 L480.69 1663.82 L483.25 1663.63 L485.82 1663.43 L488.38 1663.23 L490.95 1663.03 L493.51 1662.83 L496.08 1662.63 L498.64 1662.42 L501.2 1662.22 L503.77 1662.01 L506.33 1661.81 L508.9 1661.6 L511.46 1661.39 L514.02 1661.19 L516.59 1660.98 L519.15 1660.77 L521.72 1660.57 L524.28 1660.36 L526.85 1660.15 L529.41 1659.94 L531.97 1659.73 L534.54 1659.52 L537.1 1659.31 L539.67 1659.11 L542.23 1658.9 L544.79 1658.69 L547.36 1658.48 L549.92 1658.27 L552.49 1658.06 L555.05 1657.85 L557.62 1657.64 L560.18 1657.43 L562.74 1657.22 L565.31 1657.01 L567.87 1656.8 L570.44 1656.59 L573 1656.39" fill="none" stroke="#2a2ae8" stroke-width="2.9"/>
<path d="M165.3 1665.56 L167.83 1665.71 L170.36 1665.87 L172.89 1666.03 L175.42 1666.18 L177.95 1666.33 L180.48 1666.48 L183.01 1666.62 L185.54 1666.77 L188.07 1666.91 L190.6 1667.04 L193.13 1667.18 L195.65 1667.3 L198.18 1667.42 L200.71 1667.54 L203.24 1667.65 L205.77 1667.75 L208.3 1667.84 L210.83 1667.91 L213.36 1667.98 L215.89 1668.03 L218.42 1668.06 L220.95 1668.08 L223.48 1668.07 L226.01 1668.03 L228.54 1667.97 L231.07 1667.87 L233.6 1667.74 L236.13 1667.56 L238.66 1667.33 L241.19 1667.04 L243.72 1666.69 L246.25 1666.26 L248.78 1665.75 L251.31 1665.14 L253.83 1664.42 L256.36 1663.58 L258.89 1662.59 L261.42 1661.45 L263.95 1660.12 L266.48 1658.59 L269.01 1656.84 L271.54 1654.83 L274.07 1652.53 L276.6 1649.92 L279.13 1646.97 L281.66 1643.63 L284.19 1639.88 L286.72 1635.68 L289.25 1631 L291.78 1625.81 L294.31 1620.08 L296.84 1613.8 L299.37 1606.94 L301.9 1599.51 L304.43 1591.52 L306.96 1582.97 L309.48 1573.92 L312.01 1564.4 L314.54 1554.47 L317.07 1544.22 L319.6 1533.72 L322.13 1523.07 L324.66 1512.37 L327.19 1501.72 L329.72 1491.21 L332.25 1480.94 L334.78 1470.99 L337.31 1461.43 L339.84 1452.33 L342.37 1443.72 L344.9 1435.64 L347.43 1428.1 L349.96 1421.12 L352.49 1414.68 L355.02 1408.78 L357.55 1403.39 L360.08 1398.5 L362.61 1394.06 L365.14 1390.06 L367.66 1386.45 L370.19 1383.2 L372.72 1380.29 L375.25 1377.68 L377.78 1375.34 L380.31 1373.25 L382.84 1371.37 L385.37 1369.69 L387.9 1368.19 L390.43 1366.84 L392.96 1365.63 L395.49 1364.54 L398.02 1363.55 L400.55 1362.66 L403.08 1361.85 L405.61 1361.12 L408.14 1360.45 L410.67 1359.84 L413.2 1359.27 L415.73 1358.75 L418.26 1358.27 L420.79 1357.82 L423.32 1357.4 L425.84 1357.01 L428.37 1356.63 L430.9 1356.28 L433.43 1355.94 L435.96 1355.62 L438.49 1355.32 L441.02 1355.02 L443.55 1354.73 L446.08 1354.45 L448.61 1354.18 L451.14 1353.92 L453.67 1353.66 L456.2 1353.41 L458.73 1353.16 L461.26 1352.92 L463.79 1352.68 L466.32 1352.44 L468.85 1352.2 L471.38 1351.97 L473.91 1351.74 L476.44 1351.51 L478.97 1351.28 L481.49 1351.05 L484.02 1350.83 L486.55 1350.6 L489.08 1350.38 L491.61 1350.15 L494.14 1349.93 L496.67 1349.71 L499.2 1349.49 L501.73 1349.27 L504.26 1349.05 L506.79 1348.83 L509.32 1348.61 L511.85 1348.39 L514.38 1348.17 L516.91 1347.95 L519.44 1347.73 L521.97 1347.51 L524.5 1347.29 L527.03 1347.07 L529.56 1346.85 L532.09 1346.63 L534.62 1346.41 L537.15 1346.2 L539.67 1345.98 L542.2 1345.76 L544.73 1345.54 L547.26 1345.32 L549.79 1345.1 L552.32 1344.89 L554.85 1344.67 L557.38 1344.45 L559.91 1344.23 L562.44 1344.01 L564.97 1343.79 L567.5 1343.58" fill="none" stroke="#2a2ae8" stroke-width="2.9" stroke-dasharray="5.5 6.1"/>
<path d="M875.3 1305.3V1715.3H1384.4" fill="none" stroke="#000" stroke-width="2" stroke-linecap="square"/>
<line x1="1384.4" y1="1305.3" x2="1384.4" y2="1715.3" stroke="#000" stroke-width="2"/>
<line x1="926.2" y1="1715.3" x2="926.2" y2="1723.3" stroke="#000" stroke-width="2"/>
<text transform="translate(926.2 1755.7) scale(1 1.045)" font-size="33.5" text-anchor="middle">0</text>
<line x1="1028.02" y1="1715.3" x2="1028.02" y2="1723.3" stroke="#000" stroke-width="2"/>
<text transform="translate(1028.02 1755.7) scale(1 1.045)" font-size="33.5" text-anchor="middle">2</text>
<line x1="1129.84" y1="1715.3" x2="1129.84" y2="1723.3" stroke="#000" stroke-width="2"/>
<text transform="translate(1129.84 1755.7) scale(1 1.045)" font-size="33.5" text-anchor="middle">4</text>
<line x1="1231.66" y1="1715.3" x2="1231.66" y2="1723.3" stroke="#000" stroke-width="2"/>
<text transform="translate(1231.66 1755.7) scale(1 1.045)" font-size="33.5" text-anchor="middle">6</text>
<line x1="1333.48" y1="1715.3" x2="1333.48" y2="1723.3" stroke="#000" stroke-width="2"/>
<text transform="translate(1333.48 1755.7) scale(1 1.045)" font-size="33.5" text-anchor="middle">8</text>
<line x1="875.29" y1="1715.3" x2="875.29" y2="1719.3" stroke="#000" stroke-width="2"/>
<line x1="977.11" y1="1715.3" x2="977.11" y2="1719.3" stroke="#000" stroke-width="2"/>
<line x1="1078.93" y1="1715.3" x2="1078.93" y2="1719.3" stroke="#000" stroke-width="2"/>
<line x1="1180.75" y1="1715.3" x2="1180.75" y2="1719.3" stroke="#000" stroke-width="2"/>
<line x1="1282.57" y1="1715.3" x2="1282.57" y2="1719.3" stroke="#000" stroke-width="2"/>
<line x1="1384.39" y1="1715.3" x2="1384.39" y2="1719.3" stroke="#000" stroke-width="2"/>
<line x1="867.3" y1="1326.9" x2="875.3" y2="1326.9" stroke="#000" stroke-width="2"/>
<text transform="translate(865.2 1338.7) scale(1 1.045)" font-size="33.5" text-anchor="end">0</text>
<line x1="867.3" y1="1413.22" x2="875.3" y2="1413.22" stroke="#000" stroke-width="2"/>
<text transform="translate(865.2 1425.02) scale(1 1.045)" font-size="33.5" text-anchor="end">-10</text>
<line x1="867.3" y1="1499.54" x2="875.3" y2="1499.54" stroke="#000" stroke-width="2"/>
<text transform="translate(865.2 1511.34) scale(1 1.045)" font-size="33.5" text-anchor="end">-20</text>
<line x1="867.3" y1="1585.86" x2="875.3" y2="1585.86" stroke="#000" stroke-width="2"/>
<text transform="translate(865.2 1597.66) scale(1 1.045)" font-size="33.5" text-anchor="end">-30</text>
<line x1="867.3" y1="1672.18" x2="875.3" y2="1672.18" stroke="#000" stroke-width="2"/>
<text transform="translate(865.2 1683.98) scale(1 1.045)" font-size="33.5" text-anchor="end">-40</text>
<line x1="871.3" y1="1305.32" x2="875.3" y2="1305.32" stroke="#000" stroke-width="2"/>
<line x1="871.3" y1="1348.48" x2="875.3" y2="1348.48" stroke="#000" stroke-width="2"/>
<line x1="871.3" y1="1370.06" x2="875.3" y2="1370.06" stroke="#000" stroke-width="2"/>
<line x1="871.3" y1="1391.64" x2="875.3" y2="1391.64" stroke="#000" stroke-width="2"/>
<line x1="871.3" y1="1434.8" x2="875.3" y2="1434.8" stroke="#000" stroke-width="2"/>
<line x1="871.3" y1="1456.38" x2="875.3" y2="1456.38" stroke="#000" stroke-width="2"/>
<line x1="871.3" y1="1477.96" x2="875.3" y2="1477.96" stroke="#000" stroke-width="2"/>
<line x1="871.3" y1="1521.12" x2="875.3" y2="1521.12" stroke="#000" stroke-width="2"/>
<line x1="871.3" y1="1542.7" x2="875.3" y2="1542.7" stroke="#000" stroke-width="2"/>
<line x1="871.3" y1="1564.28" x2="875.3" y2="1564.28" stroke="#000" stroke-width="2"/>
<line x1="871.3" y1="1607.44" x2="875.3" y2="1607.44" stroke="#000" stroke-width="2"/>
<line x1="871.3" y1="1629.02" x2="875.3" y2="1629.02" stroke="#000" stroke-width="2"/>
<line x1="871.3" y1="1650.6" x2="875.3" y2="1650.6" stroke="#000" stroke-width="2"/>
<line x1="871.3" y1="1693.76" x2="875.3" y2="1693.76" stroke="#000" stroke-width="2"/>
<line x1="871.3" y1="1715.34" x2="875.3" y2="1715.34" stroke="#000" stroke-width="2"/>
<line x1="1376.4" y1="1305.3" x2="1384.4" y2="1305.3" stroke="#000" stroke-width="2"/>
<text transform="translate(1391.9 1317.1) scale(1 1.045)" font-size="33.5" text-anchor="start">300</text>
<line x1="1376.4" y1="1469.3" x2="1384.4" y2="1469.3" stroke="#000" stroke-width="2"/>
<text transform="translate(1391.9 1481.1) scale(1 1.045)" font-size="33.5" text-anchor="start">200</text>
<line x1="1376.4" y1="1633.3" x2="1384.4" y2="1633.3" stroke="#000" stroke-width="2"/>
<text transform="translate(1391.9 1645.1) scale(1 1.045)" font-size="33.5" text-anchor="start">100</text>
<line x1="1380.4" y1="1387.3" x2="1384.4" y2="1387.3" stroke="#000" stroke-width="2"/>
<line x1="1380.4" y1="1551.3" x2="1384.4" y2="1551.3" stroke="#000" stroke-width="2"/>
<line x1="1380.4" y1="1715.3" x2="1384.4" y2="1715.3" stroke="#000" stroke-width="2"/>
<text transform="translate(803.5 1279.8)" font-size="67.5" text-anchor="start">e</text>
<text transform="translate(801.9 1506.8) rotate(-90) scale(1 1.035)" font-size="40.3" text-anchor="middle">Ellipticity (mdeg)</text>
<text transform="translate(1486.7 1506.3) rotate(-90) scale(1 1.035)" font-size="39.8" text-anchor="middle">Fluorescence (a.u.)</text>
<text transform="translate(1143.6 1794.8) scale(1 1.035)" font-size="40.7" text-anchor="middle">[Urea] (M)</text>
<g fill="none" stroke="#0b800b" stroke-width="3.0"><path d="M925.8 1669.65L931.3 1678.75L920.3 1678.75Z"/><path d="M938.3 1667.15L943.8 1676.25L932.8 1676.25Z"/><path d="M951.2 1673.45L956.7 1682.55L945.7 1682.55Z"/><path d="M964.2 1671.25L969.7 1680.35L958.7 1680.35Z"/><path d="M977 1666.25L982.5 1675.35L971.5 1675.35Z"/><path d="M989.5 1654.65L995 1663.75L984 1663.75Z"/><path d="M1002.5 1637.95L1008 1647.05L997 1647.05Z"/><path d="M1015 1614.15L1020.5 1623.25L1009.5 1623.25Z"/><path d="M1027.8 1560.95L1033.3 1570.05L1022.3 1570.05Z"/><path d="M1040.5 1509.65L1046 1518.75L1035 1518.75Z"/><path d="M1053 1456.25L1058.5 1465.35L1047.5 1465.35Z"/><path d="M1065.8 1419.15L1071.3 1428.25L1060.3 1428.25Z"/><path d="M1078.3 1388.75L1083.8 1397.85L1072.8 1397.85Z"/><path d="M1091.7 1368.45L1097.2 1377.55L1086.2 1377.55Z"/><path d="M1104.2 1359.65L1109.7 1368.75L1098.7 1368.75Z"/><path d="M1117 1356.25L1122.5 1365.35L1111.5 1365.35Z"/><path d="M1130 1355.15L1135.5 1364.25L1124.5 1364.25Z"/><path d="M1142.5 1349.65L1148 1358.75L1137 1358.75Z"/><path d="M1155 1345.45L1160.5 1354.55L1149.5 1354.55Z"/><path d="M1167.5 1348.45L1173 1357.55L1162 1357.55Z"/><path d="M1180.3 1351.25L1185.8 1360.35L1174.8 1360.35Z"/><path d="M1193.3 1347.95L1198.8 1357.05L1187.8 1357.05Z"/><path d="M1206.3 1345.45L1211.8 1354.55L1200.8 1354.55Z"/><path d="M1218.8 1344.65L1224.3 1353.75L1213.3 1353.75Z"/><path d="M1231.7 1343.45L1237.2 1352.55L1226.2 1352.55Z"/><path d="M1244.2 1342.15L1249.7 1351.25L1238.7 1351.25Z"/><path d="M1256.7 1345.15L1262.2 1354.25L1251.2 1354.25Z"/><path d="M1269.7 1343.75L1275.2 1352.85L1264.2 1352.85Z"/><path d="M1282.5 1340.15L1288 1349.25L1277 1349.25Z"/><path d="M1295 1342.45L1300.5 1351.55L1289.5 1351.55Z"/><path d="M1308 1340.45L1313.5 1349.55L1302.5 1349.55Z"/><path d="M1320.8 1340.45L1326.3 1349.55L1315.3 1349.55Z"/><path d="M1333.3 1339.25L1338.8 1348.35L1327.8 1348.35Z"/></g>
<g fill="#0b800b"><path d="M925.8 1334.3L933.55 1347.3L918.05 1347.3Z"/><path d="M938.3 1338.5L946.05 1351.5L930.55 1351.5Z"/><path d="M950.8 1339.3L958.55 1352.3L943.05 1352.3Z"/><path d="M963.8 1341L971.55 1354L956.05 1354Z"/><path d="M976.3 1346.8L984.05 1359.8L968.55 1359.8Z"/><path d="M988.3 1358.8L996.05 1371.8L980.55 1371.8Z"/><path d="M1001.7 1379.3L1009.45 1392.3L993.95 1392.3Z"/><path d="M1014.7 1411L1022.45 1424L1006.95 1424Z"/><path d="M1027.5 1473.5L1035.25 1486.5L1019.75 1486.5Z"/><path d="M1040 1523.8L1047.75 1536.8L1032.25 1536.8Z"/><path d="M1053 1584.3L1060.75 1597.3L1045.25 1597.3Z"/><path d="M1065.8 1621L1073.55 1634L1058.05 1634Z"/><path d="M1078 1648.5L1085.75 1661.5L1070.25 1661.5Z"/><path d="M1090.8 1665.2L1098.55 1678.2L1083.05 1678.2Z"/><path d="M1103.3 1670.2L1111.05 1683.2L1095.55 1683.2Z"/><path d="M1116.7 1671.5L1124.45 1684.5L1108.95 1684.5Z"/><path d="M1129.2 1671L1136.95 1684L1121.45 1684Z"/><path d="M1142 1671.5L1149.75 1684.5L1134.25 1684.5Z"/><path d="M1155 1669.8L1162.75 1682.8L1147.25 1682.8Z"/><path d="M1167.8 1668.5L1175.55 1681.5L1160.05 1681.5Z"/><path d="M1180.5 1668.5L1188.25 1681.5L1172.75 1681.5Z"/><path d="M1193.3 1666.8L1201.05 1679.8L1185.55 1679.8Z"/><path d="M1206.2 1666L1213.95 1679L1198.45 1679Z"/><path d="M1218.8 1663.5L1226.55 1676.5L1211.05 1676.5Z"/><path d="M1231.7 1663.8L1239.45 1676.8L1223.95 1676.8Z"/><path d="M1244.2 1666.8L1251.95 1679.8L1236.45 1679.8Z"/><path d="M1257 1660.5L1264.75 1673.5L1249.25 1673.5Z"/><path d="M1269.7 1657.7L1277.45 1670.7L1261.95 1670.7Z"/><path d="M1282.5 1656L1290.25 1669L1274.75 1669Z"/><path d="M1295 1654.3L1302.75 1667.3L1287.25 1667.3Z"/><path d="M1308 1654.3L1315.75 1667.3L1300.25 1667.3Z"/><path d="M1320.8 1651.8L1328.55 1664.8L1313.05 1664.8Z"/><path d="M1333.3 1650.2L1341.05 1663.2L1325.55 1663.2Z"/></g>
<path d="M925.8 1342.76 L928.36 1342.84 L930.93 1342.94 L933.49 1343.06 L936.05 1343.2 L938.61 1343.37 L941.18 1343.57 L943.74 1343.81 L946.3 1344.1 L948.87 1344.43 L951.43 1344.81 L953.99 1345.26 L956.55 1345.78 L959.12 1346.38 L961.68 1347.08 L964.24 1347.88 L966.81 1348.8 L969.37 1349.87 L971.93 1351.09 L974.49 1352.5 L977.06 1354.1 L979.62 1355.94 L982.18 1358.04 L984.75 1360.42 L987.31 1363.13 L989.87 1366.2 L992.44 1369.66 L995 1373.57 L997.56 1377.95 L1000.12 1382.86 L1002.69 1388.32 L1005.25 1394.38 L1007.81 1401.06 L1010.38 1408.39 L1012.94 1416.39 L1015.5 1425.06 L1018.06 1434.38 L1020.63 1444.34 L1023.19 1454.88 L1025.75 1465.95 L1028.32 1477.47 L1030.88 1489.33 L1033.44 1501.45 L1036 1513.69 L1038.57 1525.94 L1041.13 1538.06 L1043.69 1549.95 L1046.26 1561.49 L1048.82 1572.59 L1051.38 1583.16 L1053.94 1593.13 L1056.51 1602.46 L1059.07 1611.13 L1061.63 1619.11 L1064.2 1626.41 L1066.76 1633.05 L1069.32 1639.04 L1071.88 1644.42 L1074.45 1649.22 L1077.01 1653.48 L1079.57 1657.25 L1082.14 1660.57 L1084.7 1663.47 L1087.26 1666.01 L1089.83 1668.2 L1092.39 1670.1 L1094.95 1671.73 L1097.51 1673.13 L1100.08 1674.31 L1102.64 1675.31 L1105.2 1676.14 L1107.77 1676.84 L1110.33 1677.4 L1112.89 1677.86 L1115.45 1678.22 L1118.02 1678.49 L1120.58 1678.69 L1123.14 1678.83 L1125.71 1678.91 L1128.27 1678.94 L1130.83 1678.92 L1133.39 1678.88 L1135.96 1678.8 L1138.52 1678.69 L1141.08 1678.55 L1143.65 1678.4 L1146.21 1678.23 L1148.77 1678.04 L1151.33 1677.83 L1153.9 1677.62 L1156.46 1677.39 L1159.02 1677.16 L1161.59 1676.92 L1164.15 1676.67 L1166.71 1676.41 L1169.27 1676.15 L1171.84 1675.89 L1174.4 1675.62 L1176.96 1675.35 L1179.53 1675.07 L1182.09 1674.8 L1184.65 1674.52 L1187.22 1674.24 L1189.78 1673.95 L1192.34 1673.67 L1194.9 1673.38 L1197.47 1673.1 L1200.03 1672.81 L1202.59 1672.52 L1205.16 1672.23 L1207.72 1671.94 L1210.28 1671.65 L1212.84 1671.36 L1215.41 1671.07 L1217.97 1670.78 L1220.53 1670.48 L1223.1 1670.19 L1225.66 1669.9 L1228.22 1669.61 L1230.78 1669.31 L1233.35 1669.02 L1235.91 1668.73 L1238.47 1668.44 L1241.04 1668.14 L1243.6 1667.85 L1246.16 1667.56 L1248.72 1667.26 L1251.29 1666.97 L1253.85 1666.67 L1256.41 1666.38 L1258.98 1666.09 L1261.54 1665.79 L1264.1 1665.5 L1266.66 1665.21 L1269.23 1664.91 L1271.79 1664.62 L1274.35 1664.33 L1276.92 1664.03 L1279.48 1663.74 L1282.04 1663.44 L1284.61 1663.15 L1287.17 1662.86 L1289.73 1662.56 L1292.29 1662.27 L1294.86 1661.97 L1297.42 1661.68 L1299.98 1661.39 L1302.55 1661.09 L1305.11 1660.8 L1307.67 1660.51 L1310.23 1660.21 L1312.8 1659.92 L1315.36 1659.62 L1317.92 1659.33 L1320.49 1659.04 L1323.05 1658.74 L1325.61 1658.45 L1328.17 1658.15 L1330.74 1657.86 L1333.3 1657.57" fill="none" stroke="#2e8b57" stroke-width="2.9"/>
<path d="M925.8 1673.37 L928.36 1673.7 L930.93 1674.01 L933.49 1674.31 L936.05 1674.58 L938.61 1674.82 L941.18 1675.03 L943.74 1675.21 L946.3 1675.34 L948.87 1675.44 L951.43 1675.47 L953.99 1675.45 L956.55 1675.36 L959.12 1675.19 L961.68 1674.94 L964.24 1674.58 L966.81 1674.11 L969.37 1673.51 L971.93 1672.76 L974.49 1671.85 L977.06 1670.75 L979.62 1669.44 L982.18 1667.9 L984.75 1666.09 L987.31 1663.99 L989.87 1661.57 L992.44 1658.79 L995 1655.61 L997.56 1652.01 L1000.12 1647.94 L1002.69 1643.37 L1005.25 1638.27 L1007.81 1632.61 L1010.38 1626.37 L1012.94 1619.53 L1015.5 1612.07 L1018.06 1604.02 L1020.63 1595.37 L1023.19 1586.17 L1025.75 1576.45 L1028.32 1566.28 L1030.88 1555.72 L1033.44 1544.86 L1036 1533.79 L1038.57 1522.61 L1041.13 1511.44 L1043.69 1500.36 L1046.26 1489.47 L1048.82 1478.88 L1051.38 1468.66 L1053.94 1458.87 L1056.51 1449.58 L1059.07 1440.82 L1061.63 1432.62 L1064.2 1424.99 L1066.76 1417.93 L1069.32 1411.45 L1071.88 1405.51 L1074.45 1400.1 L1077.01 1395.19 L1079.57 1390.75 L1082.14 1386.75 L1084.7 1383.15 L1087.26 1379.92 L1089.83 1377.03 L1092.39 1374.44 L1094.95 1372.13 L1097.51 1370.07 L1100.08 1368.23 L1102.64 1366.59 L1105.2 1365.13 L1107.77 1363.83 L1110.33 1362.67 L1112.89 1361.63 L1115.45 1360.7 L1118.02 1359.87 L1120.58 1359.12 L1123.14 1358.45 L1125.71 1357.85 L1128.27 1357.3 L1130.83 1356.81 L1133.39 1356.36 L1135.96 1355.95 L1138.52 1355.58 L1141.08 1355.23 L1143.65 1354.91 L1146.21 1354.62 L1148.77 1354.35 L1151.33 1354.09 L1153.9 1353.85 L1156.46 1353.63 L1159.02 1353.41 L1161.59 1353.21 L1164.15 1353.01 L1166.71 1352.83 L1169.27 1352.65 L1171.84 1352.48 L1174.4 1352.31 L1176.96 1352.15 L1179.53 1351.99 L1182.09 1351.83 L1184.65 1351.68 L1187.22 1351.53 L1189.78 1351.39 L1192.34 1351.24 L1194.9 1351.1 L1197.47 1350.96 L1200.03 1350.82 L1202.59 1350.68 L1205.16 1350.55 L1207.72 1350.41 L1210.28 1350.28 L1212.84 1350.14 L1215.41 1350.01 L1217.97 1349.87 L1220.53 1349.74 L1223.1 1349.61 L1225.66 1349.48 L1228.22 1349.35 L1230.78 1349.22 L1233.35 1349.08 L1235.91 1348.95 L1238.47 1348.82 L1241.04 1348.69 L1243.6 1348.56 L1246.16 1348.43 L1248.72 1348.3 L1251.29 1348.17 L1253.85 1348.04 L1256.41 1347.91 L1258.98 1347.78 L1261.54 1347.65 L1264.1 1347.52 L1266.66 1347.39 L1269.23 1347.27 L1271.79 1347.14 L1274.35 1347.01 L1276.92 1346.88 L1279.48 1346.75 L1282.04 1346.62 L1284.61 1346.49 L1287.17 1346.36 L1289.73 1346.23 L1292.29 1346.1 L1294.86 1345.97 L1297.42 1345.84 L1299.98 1345.71 L1302.55 1345.58 L1305.11 1345.46 L1307.67 1345.33 L1310.23 1345.2 L1312.8 1345.07 L1315.36 1344.94 L1317.92 1344.81 L1320.49 1344.68 L1323.05 1344.55 L1325.61 1344.42 L1328.17 1344.29 L1330.74 1344.16 L1333.3 1344.03" fill="none" stroke="#2e8b57" stroke-width="2.9" stroke-dasharray="5.5 6.1"/>
</svg>
</body></html>
